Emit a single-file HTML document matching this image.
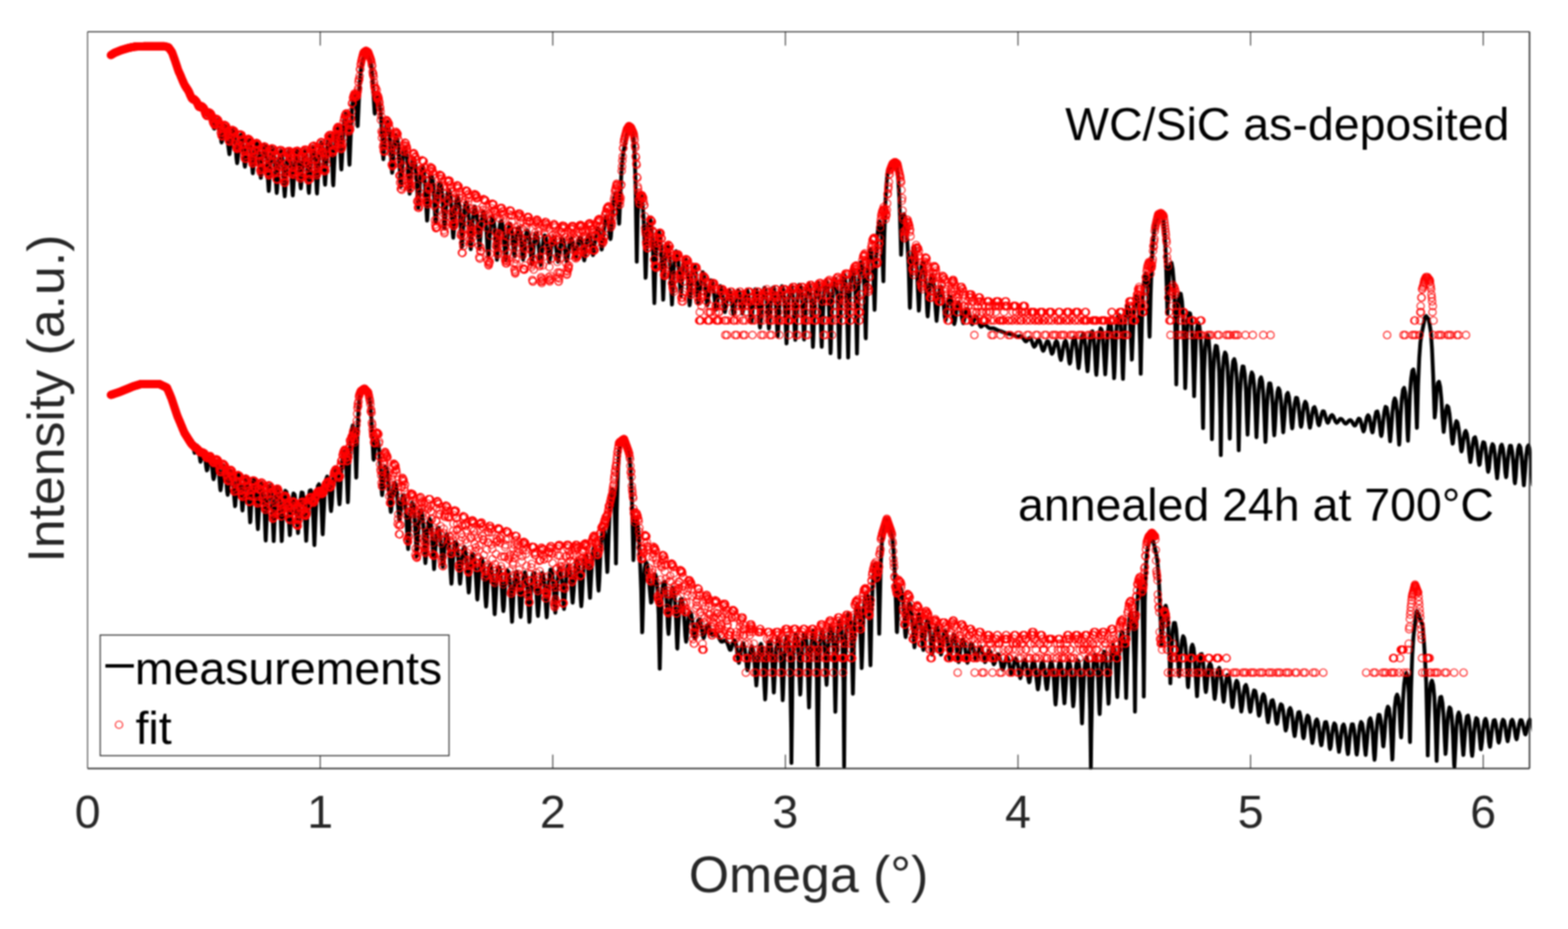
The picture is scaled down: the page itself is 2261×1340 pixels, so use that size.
<!DOCTYPE html><html><head><meta charset="utf-8"><title>XRR</title><style>html,body{margin:0;padding:0;background:#fff;overflow:hidden}svg{display:block;filter:blur(1.1px)}</style></head><body><svg width="2261" height="1340" viewBox="0 0 2261 1340">
<defs><clipPath id="pa"><rect x="124" y="44" width="2084.5" height="1066"/></clipPath><marker id="m" markerUnits="userSpaceOnUse" markerWidth="16" markerHeight="16" refX="8" refY="8" overflow="visible"><circle cx="8" cy="8" r="5.3" fill="none" stroke="#f00" stroke-width="1.3"/></marker></defs>
<rect width="2261" height="1340" fill="#fff"/>
<g clip-path="url(#pa)">
<path d="M159.8 78.5 161.5 77.6 163.2 76.7 164.9 75.8 166.5 74.9 168.2 74 169.9 73.1 171.6 72.2 173.3 71.4 174.9 70.5 176.6 70 178.3 69.6 180 69.2 181.6 68.8 183.3 68.3 185 67.9 186.7 67.5 188.3 67.1 190 66.7 191.7 66.3 193.4 65.8 195.1 65.4 196.7 65.4 198.4 65.4 200.1 64.3 201.8 64.3 203.4 65.3 205.1 64.2 206.8 64.1 208.5 64.1 210.1 64 211.8 64.6 213.5 65.3 215.2 64.6 216.9 64 218.5 64.6 220.2 65.2 221.9 64.8 223.6 64.1 225.2 64.1 226.9 64.8 228.6 65.1 230.3 64.6 232 64.1 233.6 64.1 235.3 64.7 237 65 238.7 65.1 240.3 65 242 65.3 243.7 66.9 245.4 69.8 247 72.2 248.7 75 250.4 79.1 252.1 83.8 253.8 89.4 255.4 94.8 255.9 96.3 257.1 99.7 258.8 103.1 260.5 106.6 262.1 110.6 263.8 114.7 265.5 118.3 266 119.2 267.2 121.3 268.8 123.9 270.5 126.5 272.2 129.7 273.9 133.6 275.6 137.6 276.3 138.9 277.2 139.9 278.9 140.8 280.6 141.3 282.3 142.9 283.9 146.2 285.6 150.2 286.8 152.5 287.3 152.9 289 153.1 290.6 152.2 292.3 152.8 294 156 295.7 161 297.4 165.3 297.6 165.7 299 166.4 300.7 164.3 302.4 162.7 304.1 164.9 305.7 172 307.4 181.5 308.5 185.3 309.1 185.6 310.8 180.6 312.4 174.3 314.1 173 315.8 178.9 317.5 191.6 319.2 204.5 319.5 205.6 320.8 201.9 322.5 189.4 324.2 181.5 325.9 182.2 327.5 192.5 329.2 211.3 330.7 222.5 330.9 222.4 332.6 208.2 334.2 193.2 335.9 187.4 337.6 191.5 339.3 206.1 341 228.7 341.9 235.5 342.6 232 344.3 211.5 346 197.5 347.7 194.2 349.3 201 351 217.9 352.7 238.4 353.2 240.5 354.4 232.8 356 213.4 357.7 202.5 359.4 201.7 361.1 210.8 362.8 230.4 364.4 249.6 364.6 249.9 366.1 235.9 367.8 215.8 369.5 206.1 371.1 206.8 372.8 218.2 374.5 240.4 376 256.6 376.2 256.5 377.8 237.1 379.5 217.7 381.2 209.6 382.9 212.3 384.6 227 386.2 256.6 387.5 275.5 387.9 272.7 389.6 241.3 391.3 220.6 392.9 213.4 394.6 217.7 396.3 234.1 398 264.9 399 278.4 399.7 272.7 401.3 241.7 403 222.9 404.7 216.8 406.4 221.9 408 239.8 409.7 272.7 410.6 283.3 411.4 273.5 413.1 240.9 414.7 223 416.4 217.9 418.1 224 419.8 242.9 421.5 274.9 422.2 282 423.1 270.2 424.8 239.3 426.5 222.4 428.2 217.8 429.8 223.9 431.5 241.8 433.2 267.9 433.8 271.8 434.9 261.1 436.5 234.9 438.2 219.9 439.9 216.1 441.6 223.2 443.3 243.2 444.9 274.3 445.5 278.4 446.6 262.2 448.3 231.5 450 215.3 451.6 211.2 453.3 218.4 455 239.7 456.7 275.3 457.1 279.3 458.3 258.2 460 225.3 461.7 209 463.4 205.1 465.1 212.1 466.7 232.2 468.4 263.8 468.8 266.6 470.1 246.9 471.8 215.7 473.4 199.5 475.1 195.3 476.8 202.7 478.5 224.8 480.1 263.6 480.6 267.4 481.8 240.9 483.5 206.2 485.2 189.3 486.9 183.7 488.5 189.4 490.2 209.1 491.9 241.9 492.3 244.6 493.6 221 495.2 187 496.9 169.2 498.6 163.6 500.3 169.6 501.9 191 503.6 233 504 237.7 505.3 206.1 507 165.8 508.7 143.7 510.3 134.3 512 136.2 513.7 151.8 515.4 180 515.8 181.9 517 156.4 518.7 119.6 520.4 99.8 522.1 91.3 523.7 85.6 525.4 79.9 527.1 74.2 528.8 75.4 530.5 79.5 532.1 83.6 533.8 87.8 535.5 95.4 537.2 112.3 538.8 140.7 540.2 162.8 540.5 164 542.2 151.3 543.9 140.6 545.5 140.4 547.2 148.9 548.9 162.2 550.6 188.2 552.3 224.6 552.8 229.8 553.9 216.3 555.6 190.1 557.3 177.8 559 176.3 560.6 184.4 562.3 200.9 564 229.5 565.4 249.2 565.7 248.6 567.4 223.9 569 203.8 570.7 195.5 572.4 197 574.1 208.1 575.7 231 577.4 263.9 578 269.2 579.1 257 580.8 229.8 582.4 215.4 584.1 211.9 585.8 217.9 587.5 233.8 589.2 260.8 590.6 279.4 590.8 279 592.5 256.2 594.2 236.2 595.9 227.4 597.5 228.2 599.2 238.7 600.9 261.1 602.6 294.3 603.2 300.2 604.2 288 605.9 259.7 607.6 244.4 609.3 240.3 611 245.8 612.6 262 614.3 292.5 615.8 318.2 616 317.7 617.7 287.3 619.3 263.8 621 253.6 622.7 253.7 624.4 263.5 626 284.6 627.7 315.7 628.4 321.6 629.4 311 631.1 283.3 632.8 267.7 634.4 263 636.1 267.7 637.8 282.6 639.5 309.2 641 329.5 641.1 329.2 642.8 305.7 644.5 284.3 646.2 274.4 647.8 274.2 649.5 283.6 651.2 304.6 652.9 336.5 653.6 343 654.6 332.2 656.2 303.7 657.9 287.4 659.6 282.2 661.3 286.7 662.9 301.6 664.6 330.3 666.2 356.1 666.3 355.8 668 327.3 669.6 303.5 671.3 292.8 673 292 674.7 300.8 676.4 321.1 678 352.5 678.8 359.5 679.7 349.5 681.4 320.5 683.1 303.7 684.7 298 686.4 301.8 688.1 315.2 689.8 339.5 691.4 358.8 691.4 358.7 693.1 338.2 694.8 316.9 696.5 306.5 698.2 305.6 699.8 314.1 701.5 333.6 703.2 363.3 704 370.3 704.9 361.6 706.5 334 708.2 317.5 709.9 311.8 711.6 315.4 713.2 328.9 714.9 353.9 716.5 374.8 716.6 374.8 718.3 353.2 720 331.1 721.6 320.2 723.3 318.8 725 326.4 726.7 344.1 728.3 369.1 729.1 374.7 730 368.4 731.7 344.7 733.4 328.9 735.1 322.9 736.7 325.7 738.4 336.9 740.1 355.9 741.7 369.2 741.8 369.2 743.4 356.2 745.1 338.8 746.8 329.2 748.5 327.8 750.1 334.7 751.8 350.2 753.5 370.2 754.3 374.5 755.2 370.6 756.9 351.8 758.5 337.7 760.2 332.1 761.9 334.8 763.6 346.1 765.2 366 766.9 381.5 766.9 381.5 768.6 367.3 770.3 348.3 771.9 337.8 773.6 336.1 775.3 342.6 777 357.8 778.7 377.6 779.5 382.2 780.3 378.4 782 359.7 783.7 345.4 785.4 339.5 787 341.7 788.7 351.5 790.4 367.5 792.1 378.6 792.1 378.7 793.7 368.9 795.4 353.4 797.1 343.9 798.8 341.9 800.5 347.4 802.1 359.7 803.8 374.4 804.7 377.6 805.5 375.3 807.2 361.5 808.8 349.3 810.5 343.8 812.2 345.5 813.9 354.1 815.5 367.9 817.2 377.2 817.3 377.2 818.9 369.4 820.6 355.4 822.3 346.2 823.9 343.7 825.6 348 827.3 358.4 829 370.3 829.9 372.9 830.6 371.1 832.3 359.4 834 348 835.7 342.4 837.3 343.4 839 351.6 840.7 365.4 842.4 375.5 842.5 375.6 844.1 367 845.7 351.5 847.4 341.2 849.1 338.1 850.8 342.1 852.4 352.6 854.1 365.3 855.1 368 855.8 366 857.5 352.3 859.1 338.2 860.8 330.2 862.5 329.3 864.2 335.9 865.9 349.4 867.5 360 867.7 360 869.2 349 870.9 330.8 872.6 318.5 874.2 311.9 875.9 313.1 877.6 323 879.3 339.9 880.3 344.9 880.9 341.2 882.6 317 884.3 296.1 886 284.4 887.7 278.2 889.3 280.6 891 297.3 892.7 322.8 892.9 321.6 894.4 286 896 249.5 897.7 227.9 899.4 216.6 901.1 208.6 902.8 200.7 904.4 192.7 906.1 184.8 907.8 181.8 909.5 184.7 911.1 187.6 912.8 192.1 914.5 210.7 916.2 256 917.8 352.7 918.2 377.4 919.5 311.4 921.2 284.9 922.9 280.7 924.6 280.3 926.2 290.2 927.9 312.5 929.6 356 930.9 400.8 931.3 395.6 932.9 344.7 934.6 321.9 936.3 315 938 317.2 939.6 329.5 941.3 356.9 943 416.4 943.6 437.2 944.7 397.9 946.4 354.9 948 337.4 949.7 333 951.4 338.9 953.1 356.3 954.7 391 956.3 432.3 956.4 432 958.1 389.2 959.8 362.6 961.4 352 963.1 352.2 964.8 362.6 966.5 384.7 968.2 424.9 969 439.3 969.8 425.5 971.5 388.1 973.2 369 974.9 362.4 976.5 365.6 978.2 378.5 979.9 402.9 981.6 426.9 981.7 427.1 983.2 408.8 984.9 385.8 986.6 374.2 988.3 372.2 990 379.5 991.6 397.5 993.3 427.4 994.4 440.4 995 436.2 996.7 408.2 998.3 389.4 1000 381.9 1001.7 383.6 1003.4 394.5 1005 414.9 1006.7 436.1 1007.1 437.3 1008.4 427.1 1010.1 407 1011.8 395.4 1013.4 392.6 1015.1 398 1016.8 411.6 1018.5 431.2 1019.8 440.3 1020.1 439.8 1021.8 425.7 1023.5 411.2 1025.2 404.3 1026.8 405.1 1028.5 413.6 1030.2 429 1031.9 444.7 1032.5 446.7 1033.6 442.4 1035.2 427.4 1036.9 416.3 1038.6 412.5 1040.3 415.9 1041.9 426.3 1043.6 441.6 1045.2 450.3 1045.3 450.3 1047 441.5 1048.6 428.6 1050.3 420.9 1052 419.2 1053.7 424.6 1055.4 436.6 1057 450.7 1057.9 453.6 1058.7 451.2 1060.4 437.2 1062.1 424.6 1063.7 418.7 1065.4 419.9 1067.1 428.1 1068.8 441.9 1070.5 452.2 1070.6 452.3 1072.1 444.8 1073.8 430.2 1075.5 420.4 1077.2 417.6 1078.8 422.5 1080.5 435.8 1082.2 456.5 1083.3 465.1 1083.9 463.5 1085.5 443.6 1087.2 425.9 1088.9 417.3 1090.6 417.5 1092.3 426.9 1093.9 446.8 1095.6 470.8 1096 472.5 1097.3 459.5 1099 434.6 1100.6 419.9 1102.3 415 1104 419.1 1105.7 433.1 1107.3 458.3 1108.7 473.9 1109 472.8 1110.7 447.5 1112.4 425.9 1114.1 415.4 1115.7 414.4 1117.4 423.1 1119.1 444 1120.8 478.5 1121.4 485.4 1122.4 470.7 1124.1 437.7 1125.8 419.4 1127.5 412.7 1129.1 415.8 1130.8 429.9 1132.5 460 1134.1 495.4 1134.2 495.3 1135.9 456.6 1137.5 427.6 1139.2 414.2 1140.9 411.6 1142.6 419.1 1144.2 438.8 1145.9 475.8 1146.8 490.3 1147.6 478.3 1149.3 440 1150.9 419.1 1152.6 410.7 1154.3 412.4 1156 424.5 1157.7 451.4 1159.3 489.1 1159.5 489.8 1161 459.1 1162.7 428.1 1164.4 412.9 1166 408.8 1167.7 414.8 1169.4 433.1 1171.1 472 1172.2 500.4 1172.7 490.8 1174.4 442.9 1176.1 418.1 1177.8 407.7 1179.5 407.8 1181.1 418.6 1182.8 444.4 1184.5 493.9 1184.9 500.3 1186.2 466 1187.8 427.9 1189.5 410 1191.2 404.3 1192.9 408.8 1194.5 425.4 1196.2 463.1 1197.6 509.5 1197.9 504.4 1199.6 445.4 1201.3 416.5 1202.9 404 1204.6 402.2 1206.3 410.8 1208 434.5 1209.6 491.1 1210.3 515.7 1211.3 473.5 1213 424.8 1214.7 403.1 1216.3 395 1218 397.4 1219.7 411.7 1221.4 446.2 1223 515.8 1223.1 515.4 1224.7 440.8 1226.4 406.4 1228.1 391.2 1229.8 387.4 1231.4 394.1 1233.1 414.8 1234.8 466.4 1235.7 510 1236.5 472 1238.2 413.4 1239.8 388.5 1241.5 378.2 1243.2 378.6 1244.9 389.4 1246.5 418.3 1248.2 485.6 1248.4 488.1 1249.9 424.3 1251.6 384.8 1253.2 366.4 1254.9 359.9 1256.6 363.9 1258.3 378.3 1260 414.1 1261.1 447 1261.6 432.8 1263.3 372.7 1265 341.4 1266.7 325.2 1268.3 319.7 1270 325 1271.7 341.7 1273.4 396.2 1273.8 405.7 1275 345.4 1276.7 292.6 1278.4 263.5 1280.1 247.4 1281.8 245 1283.4 242.6 1285.1 240.2 1286.8 237.8 1288.5 235.4 1290.1 233 1291.8 237.5 1293.5 244.2 1295.2 258.1 1296.8 285.5 1298.5 338.7 1299.3 367.5 1300.2 350.8 1301.9 316.8 1303.6 308.7 1305.2 314 1306.9 329.4 1308.6 354.3 1310.3 386.6 1311.9 442.3 1312.1 444.2 1313.6 402 1315.3 370.2 1317 357.4 1318.6 356.1 1320.3 364.8 1322 385.1 1323.7 422.6 1324.9 448.1 1325.4 443.7 1327 406.2 1328.7 385.1 1330.4 377.4 1332.1 379.9 1333.7 392 1335.4 416.1 1337.1 450.8 1337.7 456.5 1338.8 443.5 1340.4 415.2 1342.1 400.3 1343.8 396.2 1345.5 401.3 1347.2 416.1 1348.8 441.7 1350.5 462.9 1350.5 462.9 1352.2 444.2 1353.9 423.8 1355.5 414.2 1357.2 413.7 1358.9 421.4 1360.6 437 1362.2 456.5 1363.3 462.3 1363.9 460.6 1365.6 446 1367.3 432.9 1369 427.2 1370.6 428.8 1372.3 437.8 1374 453.1 1375.7 466.7 1376.1 467.5 1377.3 462.1 1379 448.2 1380.7 438.6 1382.4 435.8 1384 439.7 1385.7 449.1 1387.4 461 1388.9 466.2 1389.1 466.2 1390.8 459.8 1392.4 450.6 1394.1 445.5 1395.8 445.9 1397.5 451.1 1399.1 459.4 1400.8 466.5 1401.7 467.8 1402.5 467.2 1404.2 462.6 1405.9 458 1407.5 456.4 1409.2 458.5 1410.9 463.3 1412.6 468.5 1414.2 471.2 1414.5 471.3 1415.9 470.6 1417.6 468.6 1419.3 467.6 1420.9 468.3 1422.6 469.9 1424.3 471.6 1426 473 1427.3 473.5 1427.7 473.6 1429.3 473.5 1431 473.4 1432.7 473.5 1434.4 474.2 1436 475 1437.7 475.9 1439.4 476.6 1440.1 476.8 1441.1 477.1 1442.7 477.6 1444.4 478.2 1446.1 478.9 1447.8 479.5 1449.5 480.2 1451.1 480.7 1452.8 481 1452.9 481.1 1454.5 481.6 1456.2 481.9 1457.8 482.1 1459.5 482.3 1461.2 482.9 1462.9 483.8 1464.5 484.9 1465.7 485.5 1466.2 485.6 1467.9 485.7 1469.6 485.2 1471.3 484.8 1472.9 485.1 1474.6 486.6 1476.3 489.1 1478 491.6 1478.5 492.2 1479.6 492.5 1481.3 491 1483 488.6 1484.7 487.4 1486.3 488.7 1488 492.7 1489.7 497.6 1491.3 500.2 1491.4 500.2 1493.1 498.4 1494.7 494.2 1496.4 490.7 1498.1 490.1 1499.8 493 1501.4 498.7 1503.1 504.4 1504.1 506 1504.8 505.8 1506.5 501.6 1508.1 495.8 1509.8 492.2 1511.5 492.5 1513.2 497 1514.9 504.2 1516.5 509.9 1516.9 510.3 1518.2 508.5 1519.9 501.3 1521.6 494.5 1523.2 491.8 1524.9 494.5 1526.6 503 1528.3 514.3 1529.7 519.3 1529.9 519.1 1531.6 511.3 1533.3 500.2 1535 493.2 1536.7 491.6 1538.3 496.4 1540 507.5 1541.7 521.4 1542.5 524.6 1543.4 522.3 1545 507.5 1546.7 493.7 1548.4 486.9 1550.1 487.8 1551.7 496.8 1553.4 514.3 1555.1 530.8 1555.3 531.1 1556.8 519.4 1558.5 498.6 1560.1 485.5 1561.8 481.2 1563.5 485.4 1565.2 499.3 1566.8 523.1 1568.1 535.6 1568.5 534 1570.2 509.8 1571.9 489.2 1573.6 478.9 1575.2 477.8 1576.9 486 1578.6 505.7 1580.3 535.6 1580.9 540.8 1581.9 528.6 1583.6 498.5 1585.3 480.6 1587 473.6 1588.6 475.9 1590.3 488.2 1592 513.5 1593.7 540 1593.7 540 1595.4 512.6 1597 484.3 1598.7 469.4 1600.4 464.8 1602.1 470 1603.7 487.1 1605.4 523 1606.5 545.5 1607.1 536.6 1608.8 492.1 1610.4 467 1612.1 455.6 1613.8 454.3 1615.5 463.5 1617.2 487.8 1618.8 538.2 1619.3 546.6 1620.5 510.3 1622.2 469 1623.9 448.9 1625.5 441.2 1627.2 443.2 1628.9 456.2 1630.6 485.8 1632.1 518.8 1632.2 518.3 1633.9 475.4 1635.6 444.9 1637.3 429.8 1639 425.6 1640.6 431.1 1642.3 448.8 1644 497.2 1644.9 539.1 1645.7 500.6 1647.3 439.2 1649 411.3 1650.7 398 1652.4 394 1654 399.9 1655.7 422.7 1657.4 480.7 1657.7 485.8 1659.1 427.4 1660.8 379.6 1662.4 351.3 1664.1 335.1 1665.8 323.9 1667.5 318.6 1669.1 314.1 1670.8 309.7 1672.5 307.2 1674.2 309.4 1675.8 311.6 1677.5 314.4 1679.2 331.7 1680.9 365 1682.6 423.5 1683.4 453 1684.2 435.5 1685.9 396.6 1687.6 381.1 1689.3 379.1 1690.9 387.5 1692.6 407.1 1694.3 445.1 1696 542.6 1696.2 554.4 1697.6 470.4 1699.3 435.3 1701 423.4 1702.7 423.8 1704.4 434.4 1706 457.5 1707.7 503.1 1709 560 1709.4 552.1 1711.1 488.7 1712.7 461.8 1714.4 451.4 1716.1 452 1717.8 463 1719.4 488.2 1721.1 543.2 1721.9 571.5 1722.8 539.6 1724.5 491.6 1726.2 471.8 1727.8 465.7 1729.5 470.1 1731.2 485.8 1732.9 519.9 1734.5 609.7 1734.8 617.5 1736.2 537.7 1737.9 500.3 1739.6 485.5 1741.3 482.8 1742.9 490.5 1744.6 510.8 1746.3 555.9 1747.6 633.5 1748 614.8 1749.6 536.5 1751.3 509 1753 498.7 1754.7 499.5 1756.3 510.3 1758 536.1 1759.7 600.3 1760.4 656.5 1761.4 590.8 1763.1 536.4 1764.7 515.2 1766.4 508.3 1768.1 511.8 1769.8 526.5 1771.4 559 1773.1 629.6 1773.3 632.7 1774.8 572.5 1776.5 536.3 1778.1 521.1 1779.8 517.9 1781.5 524.8 1783.2 544.5 1784.9 588.1 1786.2 649.5 1786.5 636 1788.2 566.7 1789.9 539.3 1791.6 528.6 1793.2 528.8 1794.9 539.5 1796.6 563.4 1798.3 610.8 1799 627 1799.9 604.1 1801.6 562.8 1803.3 543.5 1805 537.1 1806.7 540.6 1808.3 554.7 1810 584.3 1811.7 629.9 1811.8 630.8 1813.4 593.9 1815 562 1816.7 547.5 1818.4 544.1 1820.1 550.6 1821.7 569.1 1823.4 606.5 1824.7 637.5 1825.1 632.5 1826.8 587.7 1828.5 563 1830.1 552.9 1831.8 553 1833.5 562.9 1835.2 584.8 1836.8 620 1837.5 627.9 1838.5 614.9 1840.2 583.2 1841.9 565.9 1843.5 559.8 1845.2 563.1 1846.9 575.9 1848.6 599.6 1850.3 623.4 1850.4 623.6 1851.9 605.2 1853.6 581.8 1855.3 569.5 1857 566.7 1858.6 572.4 1860.3 587 1862 608.6 1863.2 617.9 1863.7 616.6 1865.3 598.3 1867 581.7 1868.7 573.8 1870.4 574 1872.1 582 1873.7 597.3 1875.4 613.6 1876.1 615.7 1877.1 611.3 1878.8 595.6 1880.4 583.9 1882.1 579.4 1883.8 582.1 1885.5 592 1887.1 607.1 1888.8 617 1889 617 1890.5 609.4 1892.2 596.6 1893.9 588.6 1895.5 587.1 1897.2 591.7 1898.9 601 1900.6 610.8 1901.8 613.5 1902.2 613 1903.9 606 1905.6 597.8 1907.3 593.2 1909 593.5 1910.6 598 1912.3 604.7 1914 609.4 1914.6 609.8 1915.7 608.6 1917.3 604 1919 599.9 1920.7 598.6 1922.4 600.2 1924 603.9 1925.7 607.8 1927.4 609.7 1927.5 609.8 1929.1 608.7 1930.8 606.2 1932.4 604.3 1934.1 604.2 1935.8 605.8 1937.5 608.3 1939.1 610.4 1940.4 611 1940.8 611 1942.5 609.8 1944.2 607.7 1945.8 606.2 1947.5 606.1 1949.2 607.7 1950.9 610.7 1952.6 613.3 1953.2 613.8 1954.2 613.6 1955.9 610.6 1957.6 606.5 1959.3 603.8 1960.9 604.5 1962.6 609.4 1964.3 617 1966 622.2 1966.1 622.3 1967.6 618.8 1969.3 609.7 1971 601.9 1972.7 598.9 1974.4 601.4 1976 609.4 1977.7 619.9 1978.9 623.7 1979.4 623.2 1981.1 613.6 1982.7 601.6 1984.4 594.3 1986.1 593.4 1987.8 599.5 1989.4 612.5 1991.1 627 1991.8 628.9 1992.8 624.5 1994.5 607.8 1996.2 593.7 1997.8 586.8 1999.5 587.8 2001.2 597.6 2002.9 617.5 2004.5 636.6 2004.6 636.6 2006.2 618.5 2007.9 594 2009.6 579.5 2011.2 574.6 2012.9 578.8 2014.6 594 2016.3 624.1 2017.5 641.4 2018 636.9 2019.6 600.4 2021.3 575.7 2023 562.6 2024.7 559.3 2026.3 566.1 2028 586.3 2029.7 626.6 2030.3 635.8 2031.4 611.6 2033 570 2034.7 546.9 2036.4 534.9 2038.1 532.9 2039.8 542.3 2041.4 570 2043.1 617.2 2043.2 616.8 2044.8 556.6 2046.5 516.6 2048.1 494.2 2049.8 482.4 2051.5 474.1 2053.2 465.9 2054.8 457.7 2056.5 455.9 2058.2 458.1 2059.9 460.3 2061.6 468.7 2063.2 478.6 2064.9 503.3 2066.6 541.6 2068.3 589.8 2068.8 602.2 2069.9 592.5 2071.6 565 2073.3 552.6 2075 550.6 2076.7 557.9 2078.3 574.7 2080 601.5 2081.7 623.1 2081.7 623.1 2083.4 608.9 2085 592.2 2086.7 585.3 2088.4 587.1 2090.1 596.5 2091.7 611.9 2093.4 632.2 2094.6 640 2095.1 639.2 2096.8 625.4 2098.5 612.5 2100.1 607.4 2101.8 609.9 2103.5 619.3 2105.2 634.5 2106.8 649.3 2107.4 651.1 2108.5 647.4 2110.2 634.2 2111.9 624.5 2113.5 621.5 2115.2 625.7 2116.9 637 2118.6 654.4 2120.2 666.6 2120.3 666.6 2121.9 656.7 2123.6 641.2 2125.3 632.1 2127 630.6 2128.6 636.4 2130.3 649.1 2132 665.2 2133.1 670.7 2133.7 669.7 2135.3 657 2137 644.1 2138.7 637.8 2140.4 638.7 2142.1 646.9 2143.7 662.4 2145.4 678.7 2145.9 680.6 2147.1 675.7 2148.8 658.6 2150.4 645.7 2152.1 640.5 2153.8 643.3 2155.5 654.7 2157.1 674.7 2158.8 690 2158.8 690 2160.5 674.6 2162.2 654.8 2163.9 643.8 2165.5 641.4 2167.2 647 2168.9 661.2 2170.6 681.3 2171.7 688.4 2172.2 686.3 2173.9 667.5 2175.6 651 2177.3 642.9 2178.9 643.1 2180.6 652 2182.3 670.8 2184 694.5 2184.5 697.1 2185.7 687.1 2187.3 662.9 2189 647.7 2190.7 642.1 2192.4 645.2 2194 657.7 2195.7 680.8 2197.3 700 2197.4 700 2199.1 679.6 2200.7 656.9 2202.4 645 2204.1 642.3 2205.8 648.5 2207.5 664.4 2209.1 689.6 2210.2 699.3 2210.8 695.9 2212.5 670.9 2214.2 652.1 2215.8 643.4" fill="none" stroke="#000" stroke-width="5.5" stroke-linejoin="round" stroke-linecap="round"/>
<path d="M159.8 568.9 161.5 568.3 163.2 567.8 164.9 567.2 166.5 566.6 168.2 566.1 169.9 565.5 171.6 564.9 173.3 564.3 174.9 563.6 176.6 563 178.3 562.3 180 561.6 181.6 560.9 183.3 560.3 185 559.6 186.7 558.9 188.3 558.2 190 557.6 191.7 556.9 193.4 556.3 195.1 555.8 196.7 555.3 198.4 554.8 200.1 554.3 201.8 553.9 203.4 553.5 205.1 553.5 206.8 553.5 208.5 553.5 210.1 553.5 211.8 553.5 213.5 553.5 215.2 553.5 216.9 553.5 218.5 553.5 220.2 553.5 221.9 553.5 223.6 553.5 225.2 553.5 226.9 553.5 228.6 553.5 230.3 553.6 232 554.4 233.6 555.2 235.3 556 237 556.7 238.7 557.5 240.3 558.3 242 561.4 243.7 565.3 245.4 570.3 247 573.6 248.3 578.3 248.7 579.4 250.4 583.3 252.1 589.4 252.8 591.9 253.8 594.3 255.4 598.3 257.1 603.2 258.4 607.1 258.8 607.9 260.5 610.9 262.1 614.7 263.8 620.1 265 623.5 265.5 624.6 267.2 625.9 268.8 626.6 270.5 631.3 272.2 637.5 272.4 637.8 273.9 637.4 275.6 633.9 277.2 636 278.9 645.3 280.5 653 280.6 653.2 282.3 648.6 283.9 642.5 285.6 644.4 287.3 655.1 289 665.8 289.1 666.2 290.6 661.9 292.3 653 294 651.5 295.7 659.8 297.4 674.1 298.3 678.6 299 677.5 300.7 666.6 302.4 658.8 304.1 660.7 305.7 672.9 307.4 688.9 308 691.3 309.1 687.3 310.8 672.5 312.4 664.8 314.1 668.3 315.8 683.4 317.5 704.5 318 707.2 319.2 699.7 320.8 680.7 322.5 671.6 324.2 674.2 325.9 688.2 327.5 709.3 328.3 713.9 329.2 709.4 330.9 690.5 332.6 679.3 334.2 679.4 335.9 691.6 337.6 716 338.9 730.3 339.3 729 341 705.8 342.6 688.4 344.3 683.4 346 690.2 347.7 709.7 349.3 734.7 349.7 736.4 351 723 352.7 699.5 354.4 688.3 356 689.2 357.7 702.8 359.4 732.1 360.7 753.5 361.1 751.6 362.8 719.4 364.4 698.1 366.1 691.3 367.8 696.8 369.5 716.2 371.1 753 371.9 763.3 372.8 749.4 374.5 715.4 376.2 698.8 377.8 695.7 379.5 705 381.2 730.5 382.9 776.2 383.2 779.8 384.6 748.2 386.2 714.8 387.9 700.9 389.6 700.2 391.3 711.9 392.9 740.6 394.6 780.4 394.7 780.4 396.3 743.9 398 715.2 399.7 703.7 401.3 704.7 403 718.1 404.7 748.3 406.2 780.5 406.4 780.1 408 743.4 409.7 717.9 411.4 707.9 413.1 709.7 414.7 723.1 416.4 750.3 417.9 772.1 418.1 771.6 419.8 743.7 421.5 721 423.1 711.7 424.8 713.4 426.5 725.2 428.2 749.5 429.7 769 429.8 768.7 431.5 743.9 433.2 720.8 434.9 710.3 436.5 710.8 438.2 722.6 439.9 749.8 441.5 780.1 441.6 780 443.3 746.8 444.9 719.7 446.6 707.7 448.3 707 450 717.5 451.6 744.7 453.3 786.1 453.4 786.2 455 747.3 456.7 715.4 458.3 701 460 698.5 461.7 707 463.4 730.5 465.1 768.9 465.4 770.8 466.7 741.8 468.4 708.2 470.1 691.8 471.8 687.3 473.4 692.8 475.1 709.7 476.8 733.5 477.4 737.2 478.5 726.4 480.1 698.3 481.8 680.9 483.5 674 485.2 676.2 486.9 689.8 488.5 716.8 489.5 727.4 490.2 720 491.9 685.4 493.6 662.7 495.2 652.1 496.9 651.2 498.6 662.7 500.3 693.4 501.6 724.5 501.9 720 503.6 668.7 505.3 637.8 507 620 508.7 613.6 510.3 618.9 512 642 513.7 689 513.8 688.5 515.4 628.9 517 587 518.7 570.8 520.4 566.1 522.1 563.9 523.7 561.8 525.4 559.6 527.1 561.2 528.8 563.1 530.5 564.9 532.1 570.6 533.8 582 535.5 603.4 537.2 637.5 538.5 662 538.8 663.1 540.5 648.5 542.2 635.9 543.9 632.8 545.5 639.1 547.2 654.6 548.9 680.1 550.6 710.8 551 714.3 552.3 703.2 553.9 683 555.6 673.8 557.3 674.6 559 684.3 560.6 702.4 562.3 727.4 563.5 738.5 564 737 565.7 717.2 567.4 701.6 569 695.9 570.7 699 572.4 710.8 574.1 731.3 575.7 750.1 576 750.7 577.4 742.1 579.1 724.7 580.8 714.8 582.4 714 584.1 722.6 585.8 742.2 587.5 776.8 588.5 791.9 589.2 784.6 590.8 751.2 592.5 732 594.2 725.1 595.9 728.4 597.5 742.3 599.2 770.4 600.9 803 600.9 803 602.6 775.1 604.2 748.6 605.9 736.6 607.6 735.5 609.3 744.9 611 766.3 612.6 802 613.4 812.3 614.3 802.1 616 770.4 617.7 753.3 619.3 748 621 752.6 622.7 767.8 624.4 796.7 625.9 821 626 820.7 627.7 793.7 629.4 771.2 631.1 761.2 632.8 761.2 634.4 770.5 636.1 789.7 637.8 813.3 638.4 817.7 639.5 811.2 641.1 788.7 642.8 774.6 644.5 770.5 646.2 775.8 647.8 791.9 649.5 821.5 650.9 842.1 651.2 840.7 652.9 812.3 654.6 791.2 656.2 782 657.9 782.5 659.6 792.6 661.3 813 662.9 839.1 663.4 841.9 664.6 830.6 666.3 806.1 668 792.2 669.6 788.8 671.3 794.9 673 811.6 674.7 840.4 675.9 854.8 676.4 852.3 678 825.8 679.7 806.8 681.4 798.8 683.1 800.3 684.7 811.6 686.4 834.9 688.1 863.7 688.4 864.9 689.8 847.1 691.4 821 693.1 807.6 694.8 805.1 696.5 812.5 698.2 831 699.8 862.3 700.9 875 701.5 869.8 703.2 840.7 704.9 822.4 706.5 814.8 708.2 816.8 709.9 829.3 711.6 855.2 713.2 885.6 713.4 885.9 714.9 860.3 716.6 833.2 718.3 820.2 720 818.1 721.6 825.7 723.3 844.2 725 873.3 725.8 881.6 726.7 874.6 728.3 846.8 730 829.4 731.7 822.6 733.4 825.5 735.1 839.2 736.7 867.9 738.3 896.9 738.4 896.8 740.1 864.6 741.8 838.2 743.4 826 745.1 824.5 746.8 832.8 748.5 852.8 750.1 883.6 750.8 889.9 751.8 878.5 753.5 848.7 755.2 831.5 756.9 825.5 758.5 829.1 760.2 843.8 761.9 873.3 763.3 897.1 763.6 895.8 765.2 862.4 766.9 838 768.6 827.1 770.3 826.6 771.9 835.9 773.6 856.5 775.3 885.2 775.8 888.5 777 875.1 778.7 847.5 780.3 832 782 826.3 783.7 830.1 785.4 844.7 787 873.4 788.3 890.5 788.7 887.5 790.4 855.1 792.1 832.1 793.7 821.5 795.4 821.6 797.1 831.8 798.8 854.1 800.5 882.4 800.8 883.8 802.1 865.7 803.8 838.2 805.5 823.4 807.2 819.2 808.8 824.6 810.5 840.6 812.2 867.9 813.3 878.4 813.9 873.8 815.5 845.1 817.2 824.9 818.9 815.9 820.6 816.3 822.3 826.5 823.9 847.8 825.6 869.2 825.8 869.3 827.3 851.2 829 826.3 830.6 812.6 832.3 808.8 834 814.7 835.7 832.3 837.3 864.1 838.2 874.4 839 865 840.7 831.3 842.4 810.4 844.1 801.2 845.7 801.8 847.4 813 849.1 837.7 850.7 862.3 850.8 862.3 852.4 833.4 854.1 805.8 855.8 791.6 857.5 787.8 859.1 794 860.8 812.4 862.5 844.7 863.2 852.1 864.2 837.2 865.9 799 867.5 775.6 869.2 764.1 870.9 762.8 872.6 772.6 874.2 798.6 875.7 825 875.9 823.6 877.6 775.1 879.3 738.1 880.9 716.7 882.6 706.4 884.3 707.2 886 723.5 887.7 782.4 888.2 812.8 889.3 738.6 891 680.3 892.7 650.4 894.4 640.5 896 638 897.7 635.6 899.4 633.1 901.1 636 902.8 640.7 904.4 645.4 906.1 650 907.8 658.7 909.5 679.9 911.1 716.4 912.8 786.4 913.4 807.9 914.5 776.4 916.2 749 917.8 746.1 919.5 756.1 921.2 776.5 922.9 808.7 924.6 851.6 926 912.1 926.2 910.2 927.9 846.6 929.6 820.1 931.3 810.9 932.9 812.8 934.6 824 936.3 843.6 938 861.8 938.7 869.3 939.6 868.4 941.3 848.4 943 833.2 944.7 828.1 946.4 832.8 948 849.4 949.7 886.1 951.3 964.5 951.4 964.5 953.1 886.7 954.7 854 956.4 840.8 958.1 839.2 959.8 847.9 961.4 869.1 963.1 905 964 914.6 964.8 905.9 966.5 872.5 968.2 854 969.8 847.7 971.5 851.4 973.2 865.6 974.9 894.9 976.5 935.1 976.7 935.6 978.2 903.6 979.9 875.4 981.6 864.2 983.2 863.9 984.9 873 986.6 891.9 988.3 917.9 989.3 925.7 990 922.5 991.6 902.9 993.3 888.2 995 882.7 996.7 885.2 998.3 895.2 1000 910.5 1001.7 920.9 1002 921.1 1003.4 915.4 1005 903.2 1006.7 895 1008.4 893.1 1010.1 897.5 1011.8 906.9 1013.4 917.3 1014.6 920.2 1015.1 919.7 1016.8 912.5 1018.5 904.8 1020.1 901.3 1021.8 902.6 1023.5 907.5 1025.2 913.3 1026.8 916.3 1027.3 916.4 1028.5 915.8 1030.2 914.4 1031.9 913.5 1033.6 914.4 1035.2 917.2 1036.9 920.5 1038.6 923.7 1040 925.4 1040.3 925.6 1041.9 925.6 1043.6 924.4 1045.3 923.7 1047 924.7 1048.6 927 1050.3 931.5 1052 936.3 1052.6 937.4 1053.7 937.2 1055.4 932.6 1057 926.5 1058.7 923.3 1060.4 925.1 1062.1 933.6 1063.7 947.1 1065.3 956 1065.4 956.1 1067.1 949.3 1068.8 936.6 1070.5 928.7 1072.1 928 1073.8 934.6 1075.5 948.2 1077.2 963.8 1077.9 966.8 1078.8 963.9 1080.5 949.3 1082.2 937 1083.9 932 1085.5 934.7 1087.2 945.7 1088.9 967 1090.6 988.6 1090.6 988.7 1092.3 970.1 1093.9 945.5 1095.6 932.1 1097.3 928.7 1099 935.1 1100.6 953.7 1102.3 990.8 1103.3 1008.9 1104 998 1105.7 956.9 1107.3 934.4 1109 925.1 1110.7 926.1 1112.4 937.9 1114.1 964 1115.7 998.5 1115.9 998.9 1117.4 969.3 1119.1 939.2 1120.8 924.3 1122.4 920.1 1124.1 925.4 1125.8 942.8 1127.5 980.5 1128.6 1010 1129.1 1001.8 1130.8 955.6 1132.5 928.5 1134.2 917.8 1135.9 918.2 1137.5 930 1139.2 959.6 1140.9 1054.8 1141.2 1100.5 1142.6 983.1 1144.2 937.9 1145.9 919.9 1147.6 914.6 1149.3 919.5 1150.9 936.4 1152.6 972.2 1153.9 1001.9 1154.3 996.8 1156 951 1157.7 925.2 1159.3 914 1161 913.4 1162.7 923.4 1164.4 948.5 1166 1005 1166.6 1020.5 1167.7 980.2 1169.4 936.5 1171.1 917 1172.7 910.4 1174.4 914.6 1176.1 931.4 1177.8 972.5 1179.2 1103.5 1179.5 1068.9 1181.1 956 1182.8 923.2 1184.5 910.5 1186.2 908.8 1187.8 917.4 1189.5 938.8 1191.2 977.8 1191.9 987.9 1192.9 969.5 1194.5 931.2 1196.2 910.9 1197.9 902.9 1199.6 905.2 1201.3 919.3 1202.9 953.8 1204.5 1026.8 1204.6 1026.4 1206.3 948.5 1208 913.9 1209.6 898.6 1211.3 895.1 1213 902.5 1214.7 924.8 1216.3 984.9 1217.2 1105.5 1218 984.8 1219.7 920 1221.4 895.1 1223.1 884.9 1224.7 885.5 1226.4 897.7 1228.1 929 1229.8 1000.1 1229.9 1000.7 1231.4 930.7 1233.1 893.3 1234.8 876.3 1236.5 870.7 1238.2 875.5 1239.8 893.4 1241.5 934.7 1242.5 963.7 1243.2 946.2 1244.9 893.3 1246.5 867.2 1248.2 855.6 1249.9 854.6 1251.6 861.7 1253.2 886.2 1254.9 953.4 1255.2 959.7 1256.6 891.6 1258.3 846.4 1260 823.9 1261.6 813.8 1263.3 812.8 1265 824.5 1266.7 862.9 1267.8 914.1 1268.3 888.1 1270 814.6 1271.7 781.7 1273.4 765.9 1275 759.4 1276.7 753.9 1278.4 748.5 1280.1 751.6 1281.8 756.7 1283.4 761.8 1285.1 766.8 1286.8 776.2 1288.5 795 1290.1 824.8 1291.8 868.4 1293.2 911.4 1293.5 911.7 1295.2 871.4 1296.8 852 1298.5 847.8 1300.2 853.4 1301.9 863.9 1303.6 884.9 1305.2 913.3 1305.9 918.9 1306.9 911.5 1308.6 888.1 1310.3 874.4 1311.9 870.6 1313.6 875.7 1315.3 890.1 1317 914.4 1318.6 933.8 1318.7 933.8 1320.3 918 1322 898 1323.7 887.6 1325.4 886.2 1327 893.3 1328.7 909.2 1330.4 931 1331.4 937.5 1332.1 934.6 1333.7 915.5 1335.4 900.6 1337.1 894.5 1338.8 896.6 1340.4 907.1 1342.1 926 1343.8 943.7 1344.1 944.3 1345.5 934.7 1347.2 916.4 1348.8 905.4 1350.5 902.8 1352.2 907.7 1353.9 920 1355.5 937.2 1356.8 944.2 1357.2 943.6 1358.9 930.5 1360.6 916.6 1362.2 909.7 1363.9 910.3 1365.6 918.5 1367.3 933.8 1369 949.2 1369.5 950.7 1370.6 945.6 1372.3 930.2 1374 919.1 1375.7 915.4 1377.3 919 1379 930.1 1380.7 946.4 1382.2 955.1 1382.4 955.1 1384 944.5 1385.7 930.7 1387.4 923 1389.1 922.3 1390.8 928.6 1392.4 940.8 1394.1 953.7 1395 956 1395.8 953.8 1397.5 942.4 1399.1 932.4 1400.8 928.1 1402.5 929.9 1404.2 936.8 1405.9 946.5 1407.5 952.3 1407.7 952.4 1409.2 948.5 1410.9 940.3 1412.6 934.4 1414.2 933.2 1415.9 937.1 1417.6 944.9 1419.3 953 1420.4 955.1 1420.9 954.7 1422.6 948.9 1424.3 942.1 1426 938.4 1427.7 939.2 1429.3 944.5 1431 952.2 1432.7 957.8 1433.1 958.2 1434.4 956.4 1436 950.4 1437.7 945 1439.4 943.3 1441.1 946.2 1442.7 953.5 1444.4 962.3 1445.8 966.1 1446.1 966.1 1447.8 961.4 1449.5 953.7 1451.1 948.7 1452.8 948.3 1454.5 953.2 1456.2 962.5 1457.8 971.5 1458.5 972.8 1459.5 971.2 1461.2 962.2 1462.9 953.5 1464.5 949.7 1466.2 951.7 1467.9 959.5 1469.6 971.2 1471.2 978.4 1471.3 978.4 1472.9 972.3 1474.6 960.9 1476.3 953.2 1478 951.6 1479.6 956.3 1481.3 967.2 1483 980.5 1484 984.3 1484.7 983.2 1486.3 971.5 1488 959.5 1489.7 953.6 1491.4 954.8 1493.1 963.8 1494.7 980 1496.4 994 1496.7 994.4 1498.1 986 1499.8 969.1 1501.4 957.9 1503.1 954.4 1504.8 958.2 1506.5 969.3 1508.1 986.1 1509.4 994.1 1509.8 993.7 1511.5 979.5 1513.2 963.6 1514.9 955.1 1516.5 954.8 1518.2 963.5 1519.9 983.2 1521.6 1011.8 1522.1 1016.2 1523.2 1004.4 1524.9 976.1 1526.6 959.4 1528.3 953.4 1529.9 956.8 1531.6 970.3 1533.3 995.4 1534.8 1014.5 1535 1014.2 1536.7 989.5 1538.3 966.6 1540 955.1 1541.7 953.2 1543.4 960.5 1545 978.7 1546.7 1009.2 1547.5 1018.8 1548.4 1010.8 1550.1 979.7 1551.7 960.1 1553.4 951.9 1555.1 953.5 1556.8 966.1 1558.5 995.1 1560.1 1042.7 1560.3 1043.4 1561.8 1001.3 1563.5 967.5 1565.2 951.9 1566.8 947.5 1568.5 953.8 1570.2 973.6 1571.9 1023 1573 1107.5 1573.6 1057.8 1575.2 983.2 1576.9 955.4 1578.6 944.9 1580.3 944.9 1581.9 955.5 1583.6 980.7 1585.3 1025.6 1585.7 1030.1 1587 999.5 1588.6 963.3 1590.3 945.7 1592 939.9 1593.7 944 1595.4 959.1 1597 989.9 1598.4 1015.1 1598.7 1013.2 1600.4 975.5 1602.1 947.8 1603.7 933.8 1605.4 930.1 1607.1 936.4 1608.8 955.9 1610.4 994.6 1611.1 1005.4 1612.1 985.2 1613.8 943.9 1615.5 921.7 1617.2 912 1618.8 912.5 1620.5 923.9 1622.2 952.8 1623.9 1006.7 1623.9 1006.7 1625.5 945.8 1627.2 908.4 1628.9 889.9 1630.6 883.1 1632.2 886.8 1633.9 904.7 1635.6 954.4 1636.6 1026.4 1637.3 964.4 1639 891.8 1640.6 860.2 1642.3 844 1644 838.6 1645.7 844.1 1647.3 867.2 1649 967.8 1649.3 1004.7 1650.7 868.1 1652.4 818.5 1654 796.5 1655.7 787.2 1657.4 782.5 1659.1 777.8 1660.8 773.2 1662.4 778.6 1664.1 785.8 1665.8 793 1667.5 800.2 1669.1 811.2 1670.8 831.7 1672.5 865 1674.2 916.5 1674.8 930.9 1675.8 917.2 1677.5 892.2 1679.2 877.2 1680.9 873.6 1682.6 879.7 1684.2 897 1685.9 931.7 1687.6 985.5 1687.6 985.6 1689.3 939.1 1690.9 909.8 1692.6 898.5 1694.3 898.4 1696 907.8 1697.6 928.1 1699.3 961.5 1700.4 975.5 1701 970.7 1702.7 942 1704.4 924 1706 917.6 1707.7 920.6 1709.4 932 1711.1 955.4 1712.7 987.8 1713.2 991.2 1714.4 976.1 1716.1 948.4 1717.8 933.8 1719.4 929.8 1721.1 935.2 1722.8 951 1724.5 979.9 1726 1004.3 1726.2 1004.1 1727.8 976.6 1729.5 953.8 1731.2 943.7 1732.9 943.4 1734.5 952 1736.2 969.9 1737.9 993 1738.8 998.2 1739.6 994.1 1741.3 975.6 1742.9 961.7 1744.6 956.5 1746.3 959.5 1748 969.7 1749.6 988.4 1751.3 1007.2 1751.6 1008.1 1753 998.3 1754.7 978.4 1756.3 966.4 1758 963.2 1759.7 968.3 1761.4 982.1 1763.1 1002.3 1764.4 1012.2 1764.7 1011.7 1766.4 996.7 1768.1 981.3 1769.8 973.7 1771.4 974.1 1773.1 982.4 1774.8 998.3 1776.5 1016.8 1777.2 1020 1778.1 1015.9 1779.8 999.1 1781.5 986.5 1783.2 981.8 1784.9 984.8 1786.5 995.3 1788.2 1012.7 1789.9 1026.3 1790 1026.4 1791.6 1016.6 1793.2 1000.1 1794.9 990.2 1796.6 988 1798.3 993.3 1799.9 1005.7 1801.6 1021.4 1802.8 1026.8 1803.3 1026 1805 1014.2 1806.7 1001.9 1808.3 995.8 1810 996.7 1811.7 1004.4 1813.4 1017.9 1815 1030.9 1815.6 1032.3 1816.7 1028.5 1818.4 1015.4 1820.1 1005.1 1821.7 1001.3 1823.4 1004.6 1825.1 1015.3 1826.8 1031.5 1828.4 1041.7 1828.5 1041.7 1830.1 1032.3 1831.8 1018.5 1833.5 1010.7 1835.2 1009.9 1836.8 1015.8 1838.5 1027.6 1840.2 1040.8 1841.2 1043.9 1841.9 1042.4 1843.5 1031.7 1845.2 1021.1 1846.9 1015.8 1848.6 1017.1 1850.3 1025.1 1851.9 1039.3 1853.6 1052.6 1854 1053.7 1855.3 1049.1 1857 1034.6 1858.6 1024.3 1860.3 1021.2 1862 1025.2 1863.7 1036.5 1865.3 1053.2 1866.8 1061.8 1867 1061.6 1868.7 1050 1870.4 1035.6 1872.1 1027.6 1873.7 1027 1875.4 1033.5 1877.1 1046.9 1878.8 1061.9 1879.6 1064.9 1880.4 1062.5 1882.1 1049 1883.8 1037.2 1885.5 1032.1 1887.1 1034.1 1888.8 1043.4 1890.5 1058.8 1892.2 1071.4 1892.4 1071.7 1893.9 1064.2 1895.5 1049.5 1897.2 1040.1 1898.9 1037.7 1900.6 1042.3 1902.2 1053.7 1903.9 1069.1 1905.2 1075 1905.6 1074.7 1907.3 1063 1909 1049.2 1910.6 1041.7 1912.3 1041.5 1914 1048.4 1915.7 1062.4 1917.3 1078 1918 1080.4 1919 1076.6 1920.7 1060.6 1922.4 1048.3 1924 1043.3 1925.7 1045.8 1927.4 1055.9 1929.1 1072.6 1930.8 1084.5 1930.8 1084.5 1932.4 1074.1 1934.1 1057.5 1935.8 1047.4 1937.5 1044.9 1939.1 1049.9 1940.8 1062.8 1942.5 1081.2 1943.6 1087.7 1944.2 1086.1 1945.8 1068.9 1947.5 1052.8 1949.2 1044.7 1950.9 1044.7 1952.6 1052.6 1954.2 1068.8 1955.9 1086.9 1956.4 1088.5 1957.6 1081 1959.3 1060.3 1960.9 1046.5 1962.6 1041.3 1964.3 1044.2 1966 1055.6 1967.6 1075.6 1969.2 1088.9 1969.3 1088.7 1971 1071.1 1972.7 1050.5 1974.4 1038.7 1976 1035.9 1977.7 1041.9 1979.4 1058.4 1981.1 1086.2 1982 1096 1982.7 1090.1 1984.4 1060 1986.1 1039.9 1987.8 1031 1989.4 1031.3 1991.1 1039.7 1992.8 1057.8 1994.5 1076.3 1994.8 1076.6 1996.2 1063 1997.8 1040.3 1999.5 1025.2 2001.2 1019.2 2002.9 1021.9 2004.5 1035.4 2006.2 1065.9 2007.6 1095.5 2007.9 1093.5 2009.6 1048.8 2011.2 1019.8 2012.9 1005.8 2014.6 1001.8 2016.3 1006.6 2018 1023.6 2019.6 1055.8 2020.4 1063.8 2021.3 1048.8 2023 1010.7 2024.7 987 2026.3 975.4 2028 970.6 2029.7 976.3 2031.4 1000.2 2033 1067.7 2033.2 1070.4 2034.7 993.3 2036.4 945.9 2038.1 919 2039.8 903.7 2041.4 892.4 2043.1 881.1 2044.8 884.7 2046.5 889.2 2048.1 893.7 2049.8 898.2 2051.5 902.7 2053.2 924.3 2054.8 950.2 2056.5 984.1 2058.2 1057.6 2058.8 1089.6 2059.9 1039.3 2061.6 999.9 2063.2 985.7 2064.9 981.7 2066.6 988 2068.3 1005.8 2069.9 1042.1 2071.6 1097.4 2071.6 1097.3 2073.3 1045.9 2075 1017 2076.7 1005.7 2078.3 1005 2080 1014.1 2081.7 1034.8 2083.4 1070.2 2084.4 1087.5 2085 1081.3 2086.7 1047.7 2088.4 1028.3 2090.1 1020.4 2091.7 1022.2 2093.4 1034.2 2095.1 1060.5 2096.8 1102.7 2097.2 1106.3 2098.5 1080.8 2100.1 1048.3 2101.8 1032.6 2103.5 1027.7 2105.2 1032.1 2106.8 1046.3 2108.5 1070.7 2110 1089.1 2110.2 1088.9 2111.9 1066.1 2113.5 1044.2 2115.2 1033.4 2116.9 1032.1 2118.6 1039.9 2120.3 1058.1 2121.9 1084.2 2122.8 1090.3 2123.6 1083.8 2125.3 1059 2127 1042.6 2128.6 1035.8 2130.3 1037.3 2132 1047.1 2133.7 1064.7 2135.3 1080.4 2135.6 1080.7 2137 1070.5 2138.7 1051.9 2140.4 1040.3 2142.1 1036.8 2143.7 1041.2 2145.4 1053.2 2147.1 1070.3 2148.4 1077.2 2148.8 1076.4 2150.4 1062.2 2152.1 1047.3 2153.8 1039.3 2155.5 1038.6 2157.1 1044.8 2158.8 1057.1 2160.5 1069.6 2161.2 1071.2 2162.2 1067.8 2163.9 1054.3 2165.5 1043.1 2167.2 1038.2 2168.9 1040 2170.6 1048.3 2172.2 1061.2 2173.9 1069.3 2174 1069.3 2175.6 1062 2177.3 1049.1 2178.9 1040.4 2180.6 1038.1 2182.3 1042.2 2184 1052 2185.7 1063.4 2186.8 1066.4 2187.3 1065.3 2189 1055.3 2190.7 1044.6 2192.4 1038.7 2194 1038.7 2195.7 1043.7 2197.4 1052.2 2199.1 1058.8 2199.6 1059.3 2200.7 1056.8 2202.4 1048.5 2204.1 1041.2 2205.8 1038 2207.5 1039.8 2209.1 1045.9 2210.8 1053.6 2212.4 1057 2212.5 1057 2214.2 1052.5 2215.8 1044.9" fill="none" stroke="#000" stroke-width="5.5" stroke-linejoin="round" stroke-linecap="round"/>
<path d="M159.8 79.6 160.3 79.2 160.8 78.9 161.3 78.6 161.9 78.3 162.4 78 162.9 77.6 163.4 77.3 163.9 77 164.4 76.7 164.9 76.3 165.4 76.1 165.9 75.9 166.4 75.7 166.9 75.5 167.4 75.3 167.9 75.1 168.4 74.9 168.9 74.7 169.4 74.5 169.9 74.3 170.4 74.1 170.9 73.9 171.4 73.7 171.9 73.5 172.4 73.3 172.9 73.1 173.4 72.9 173.9 72.7 174.4 72.5 174.9 72.3 175.4 72.1 175.9 72 176.4 71.8 176.9 71.7 177.4 71.5 178 71.4 178.5 71.2 179 71.1 179.5 70.9 180 70.8 180.5 70.6 181 70.5 181.5 70.3 182 70.2 182.5 70 183 69.9 183.5 69.7 184 69.6 184.5 69.4 185 69.3 185.5 69.2 186 69 186.5 68.9 187 68.8 187.5 68.7 188 68.6 188.5 68.5 189 68.4 189.5 68.3 190 68.2 190.5 68.1 191 68 191.5 67.9 192 67.8 192.5 67.7 193 67.6 193.5 67.5 194.1 67.4 194.6 67.3 195.1 67.2 195.6 67.2 196.1 67.2 196.6 67.2 197.1 67.2 197.6 67.2 198.1 67.1 198.6 67.1 199.1 67.1 199.6 67.1 200.1 67.1 200.6 67.1 201.1 67 201.6 67 202.1 67 202.6 67 203.1 67 203.6 67 204.1 66.9 204.6 66.9 205.1 66.9 205.6 66.9 206.1 66.9 206.6 66.9 207.1 66.8 207.6 66.8 208.1 66.8 208.6 66.8 209.1 66.8 209.6 66.8 210.1 66.8 210.7 66.8 211.2 66.8 211.7 66.8 212.2 66.8 212.7 66.8 213.2 66.8 213.7 66.8 214.2 66.8 214.7 66.8 215.2 66.8 215.7 66.8 216.2 66.8 216.7 66.8 217.2 66.8 217.7 66.8 218.2 66.8 218.7 66.8 219.2 66.8 219.7 66.8 220.2 66.8 220.7 66.8 221.2 66.8 221.7 66.8 222.2 66.8 222.7 66.8 223.2 66.8 223.7 66.8 224.2 66.8 224.7 66.8 225.2 66.8 225.7 66.8 226.2 66.8 226.8 66.8 227.3 66.8 227.8 66.8 228.3 66.8 228.8 66.8 229.3 66.8 229.8 66.8 230.3 66.8 230.8 66.8 231.3 66.8 231.8 66.8 232.3 66.8 232.8 66.8 233.3 66.8 233.8 66.8 234.3 66.8 234.8 66.8 235.3 66.8 235.8 66.8 236.3 66.8 236.8 66.8 237.3 66.8 237.8 67 238.3 67.1 238.8 67.2 239.3 67.3 239.8 67.5 240.3 67.6 240.8 67.7 241.3 67.8 241.8 68 242.3 68.1 242.9 68.2 243.4 68.7 243.9 69.5 244.4 70.2 244.9 70.9 245.4 71.6 245.9 72.3 246.4 73 246.9 73.7 247.4 74.4 247.9 75.1 248.4 76.3 248.9 77.7 249.4 79.1 249.9 80.5 250.4 81.8 250.9 83.2 251.4 84.6 251.9 86 252.4 87.5 252.9 89 253.4 90.5 253.9 92 254.4 93.5 254.9 95 255.4 96.5 255.9 98 256.4 99.6 256.9 101.1 257.4 102.3 257.9 103.5 258.4 104.6 259 105.8 259.5 107 260 108.1 260.5 109.3 261 110.5 261.5 111.7 262 112.9 262.5 114.1 263 115.4 263.5 116.5 264 117.5 264.5 118.9 265 120 265.5 120.9 266 122.1 266.5 123.1 267 124 267.5 124.8 268 125.1 268.5 125.9 269 127.2 269.5 127.5 270 128.4 270.5 129.1 271 130 271.5 130.8 272 131.7 272.5 132.9 273 133.4 273.5 135.2 274 136.5 274.5 137 275 138.9 275.6 139.9 276.1 141.1 276.6 142 277.1 142.1 277.6 142.9 278.1 142.7 278.6 143.8 279.1 143.5 279.6 142.6 280.1 143.1 280.6 143.6 281.1 143.9 281.6 144.5 282.1 145.1 282.6 145.7 283.1 146.3 283.6 147 284.1 148.2 284.6 148.8 285.1 150.7 285.6 151.6 286.1 152.5 286.6 153.9 287.1 154.1 287.6 154.4 288.1 154.1 288.6 154.5 289.1 155 289.6 154 290.1 152.8 290.6 153.1 291.1 153.8 291.7 153.8 292.2 154.2 292.7 154.9 293.2 155.1 293.7 155.8 294.2 157.6 294.7 157.2 295.2 161.2 295.7 160.3 296.2 164.1 296.7 165.5 297.2 165.1 297.7 166.6 298.2 167.2 298.7 167.4 299.2 166.1 299.7 166.3 300.2 163.1 300.7 162.9 301.2 162 301.7 162.8 302.2 162.5 302.7 162.9 303.2 163.3 303.7 164.2 304.2 164.2 304.7 165.1 305.2 167.3 305.7 167.8 306.2 172.9 306.7 170.5 307.2 176.5 307.8 175.2 308.3 178.6 308.8 179.3 309.3 179.5 309.8 180.5 310.3 178.5 310.8 177 311.3 173.3 311.8 171.3 312.3 172.1 312.8 171.6 313.3 172.2 313.8 172.8 314.3 172.9 314.8 174 315.3 176.7 315.8 177.3 316.3 179.5 316.8 178.3 317.3 183.2 317.8 184.7 318.3 191.2 318.8 191.7 319.3 195.6 319.8 195 320.3 196.7 320.8 196.6 321.3 186 321.8 192.4 322.3 189.4 322.8 182.9 323.3 180.1 323.9 180.2 324.4 181.4 324.9 180.8 325.4 181.2 325.9 181.6 326.4 183 326.9 184.6 327.4 186.2 327.9 191.8 328.4 188.7 328.9 195.7 329.4 194.8 329.9 202.3 330.4 203.9 330.9 204.5 331.4 204.1 331.9 197.9 332.4 200.6 332.9 194.1 333.4 198.5 333.9 190.9 334.4 188.7 334.9 187.1 335.4 188.4 335.9 188.1 336.4 188.2 336.9 188.1 337.4 189.5 337.9 189 338.4 198.6 338.9 192.1 339.4 197.5 339.9 207.4 340.5 210.7 341 214.5 341.5 212.6 342 215 342.5 214.3 343 211.3 343.5 213.8 344 211.1 344.5 208.2 345 195.5 345.5 195 346 193.7 346.5 194.1 347 194.5 347.5 194.5 348 194.4 348.5 194.7 349 201 349.5 200.7 350 208.5 350.5 201.4 351 214 351.5 218.7 352 216.8 352.5 225.2 353 228.9 353.5 228.8 354 227.9 354.5 229.4 355 223.6 355.5 214.9 356 218.6 356.6 207.1 357.1 201.5 357.6 200.1 358.1 202.7 358.6 200.5 359.1 200.7 359.6 202.3 360.1 204.8 360.6 202.2 361.1 203.7 361.6 218.3 362.1 210.7 362.6 217.1 363.1 229.7 363.6 231.5 364.1 236.2 364.6 234.5 365.1 232.3 365.6 228.9 366.1 234.9 366.6 217.1 367.1 221.7 367.6 216.2 368.1 217.4 368.6 208.3 369.1 208.5 369.6 206.1 370.1 206.1 370.6 206.6 371.1 206.6 371.6 207.9 372.1 209 372.7 222.7 373.2 217.2 373.7 235.2 374.2 233.7 374.7 231.6 375.2 245.3 375.7 246.1 376.2 249.1 376.7 242.5 377.2 244.7 377.7 242 378.2 242.5 378.7 231.6 379.2 232.9 379.7 215.3 380.2 217.5 380.7 211.2 381.2 213.4 381.7 211.5 382.2 211.5 382.7 213.4 383.2 220 383.7 213.6 384.2 227.2 384.7 236.8 385.2 228.9 385.7 241.7 386.2 248.4 386.7 248.5 387.2 249.8 387.7 253.3 388.2 251.3 388.8 252.1 389.3 230.7 389.8 243.7 390.3 225.5 390.8 223 391.3 219.4 391.8 214 392.3 214.1 392.8 214.1 393.3 214.8 393.8 215 394.3 214.6 394.8 217.5 395.3 218.1 395.8 225.4 396.3 223.1 396.8 239.2 397.3 246.4 397.8 246.7 398.3 249.8 398.8 258.5 399.3 257.9 399.8 259.5 400.3 244.1 400.8 234.6 401.3 227.4 401.8 239.7 402.3 231.7 402.8 218.1 403.3 216.6 403.8 216.5 404.3 216.8 404.8 216.9 405.4 216.8 405.9 216.8 406.4 220.5 406.9 220.6 407.4 228.5 407.9 248 408.4 255.2 408.9 240.9 409.4 257.8 409.9 263.6 410.4 262.7 410.9 263.8 411.4 259.9 411.9 244 412.4 248.3 412.9 236.6 413.4 235 413.9 221.5 414.4 219.4 414.9 218.3 415.4 219.2 415.9 218.7 416.4 217.9 416.9 217.7 417.4 217.7 417.9 223.9 418.4 225.4 418.9 221.7 419.4 226.7 419.9 230.8 420.4 249.5 420.9 251.8 421.5 246.7 422 250.1 422.5 249.3 423 247.2 423.5 252.3 424 235.6 424.5 242.5 425 227.1 425.5 229.6 426 223 426.5 217.9 427 219.8 427.5 217.6 428 217.9 428.5 217.4 429 217.4 429.5 218.2 430 219.3 430.5 228.3 431 238.5 431.5 244.8 432 246 432.5 257.4 433 254.8 433.5 257.6 434 253.3 434.5 254.4 435 249.5 435.5 254.4 436 231.6 436.5 227.4 437 220.1 437.6 219 438.1 225.7 438.6 217.4 439.1 215.9 439.6 215.9 440.1 215.7 440.6 215.8 441.1 216.5 441.6 220.3 442.1 232.3 442.6 225.5 443.1 237.3 443.6 236.1 444.1 242.7 444.6 260.3 445.1 259.2 445.6 257.6 446.1 250 446.6 252.6 447.1 258.2 447.6 239.2 448.1 234.6 448.6 230.9 449.1 215.4 449.6 214.1 450.1 212 450.6 211.3 451.1 211 451.6 210.8 452.1 210.5 452.6 210.3 453.1 219.8 453.7 215.8 454.2 230 454.7 220.4 455.2 230.5 455.7 244.5 456.2 249 456.7 253 457.2 251 457.7 247.5 458.2 237.7 458.7 244.1 459.2 241 459.7 222.5 460.2 216.2 460.7 225.6 461.2 213.1 461.7 208 462.2 205.4 462.7 206 463.2 204.7 463.7 205.5 464.2 211.2 464.7 210.8 465.2 219.8 465.7 218.9 466.2 221.2 466.7 225.1 467.2 244.3 467.7 247.3 468.2 246.3 468.7 243.8 469.2 246.2 469.7 231.4 470.3 224.1 470.8 236.7 471.3 222.3 471.8 219.7 472.3 203.1 472.8 204.9 473.3 196.6 473.8 200.5 474.3 195.4 474.8 195.1 475.3 194.8 475.8 198 476.3 197.7 476.8 194.5 477.3 197.9 477.8 209.4 478.3 207.1 478.8 218.2 479.3 220.7 479.8 216.1 480.3 220.3 480.8 218 481.3 215.7 481.8 216.6 482.3 205.9 482.8 199.1 483.3 205.8 483.8 197.4 484.3 195.4 484.8 192.7 485.3 187 485.8 185.3 486.4 184.3 486.9 183.5 487.4 183 487.9 188.1 488.4 184.2 488.9 186 489.4 194.8 489.9 207.5 490.4 199.1 490.9 208 491.4 204.5 491.9 215.3 492.4 213.3 492.9 214 493.4 211.1 493.9 208.3 494.4 185.8 494.9 198.5 495.4 175.1 495.9 184.8 496.4 170.2 496.9 172.7 497.4 166.6 497.9 165.7 498.4 165 498.9 163.8 499.4 163.9 499.9 163.5 500.4 169.7 500.9 172.1 501.4 173.9 501.9 186.3 502.5 181.5 503 189.9 503.5 187.1 504 188.9 504.5 185.8 505 186.6 505.5 170 506 179.6 506.5 171.2 507 161 507.5 149.2 508 148.4 508.5 148.5 509 141.3 509.5 139.2 510 137.6 510.5 136.7 511 134.9 511.5 136.1 512 136.9 512.5 139.4 513 140.4 513.5 136.4 514 135.4 514.5 139.1 515 136.6 515.5 133.5 516 130.4 516.5 127.4 517 118.2 517.5 114.4 518 114.5 518.6 109.6 519.1 100 519.6 99.7 520.1 93.3 520.6 90.9 521.1 88 521.6 86 522.1 84 522.6 81.9 523.1 79.9 523.6 77.9 524.1 76.2 524.6 75.8 525.1 75.3 525.6 74.9 526.1 74.5 526.6 74.1 527.1 73.7 527.6 73.3 528.1 73.5 528.6 73.8 529.1 74.1 529.6 74.4 530.1 74.7 530.6 75 531.1 75.6 531.6 77 532.1 78.4 532.6 79.8 533.1 81.1 533.6 82.5 534.1 83.9 534.6 85.5 535.2 87.1 535.7 89.9 536.2 93.4 536.7 95.1 537.2 103.5 537.7 107.2 538.2 106.2 538.7 110.5 539.2 118.5 539.7 123.3 540.2 126.4 540.7 127.8 541.2 132.6 541.7 126.7 542.2 137.1 542.7 138.3 543.2 129.9 543.7 142.7 544.2 141.3 544.7 137.8 545.2 139.5 545.7 140.4 546.2 143.1 546.7 146 547.2 148.6 547.7 153.9 548.2 156 548.7 160.7 549.2 173 549.7 167.6 550.2 189.4 550.7 198.7 551.3 191.5 551.8 193.4 552.3 211.8 552.8 209.2 553.3 217.2 553.8 219 554.3 203.2 554.8 218.7 555.3 207.7 555.8 180.9 556.3 183.4 556.8 188.7 557.3 173.3 557.8 173.5 558.3 174.7 558.8 175 559.3 175.8 559.8 177.5 560.3 177.9 560.8 178.4 561.3 183.8 561.8 185.1 562.3 198.9 562.8 192.5 563.3 211.2 563.8 214.6 564.3 221.1 564.8 237.5 565.3 237 565.8 240.1 566.3 237.2 566.8 238.8 567.4 226.4 567.9 210.3 568.4 215.6 568.9 196.9 569.4 192.2 569.9 195 570.4 192 570.9 189.9 571.4 192 571.9 191.1 572.4 192 572.9 196.9 573.4 193.1 573.9 216.5 574.4 201.7 574.9 231.9 575.4 236.3 575.9 253.2 576.4 253.1 576.9 263.2 577.4 253.3 577.9 272.4 578.4 272.2 578.9 262.2 579.4 273.9 579.9 268.5 580.4 250.9 580.9 238 581.4 240.8 581.9 217.3 582.4 211 582.9 219.4 583.5 209.4 584 205.6 584.5 206.2 585 206.8 585.5 210 586 216.3 586.5 211.5 587 214.3 587.5 220 588 248.2 588.5 258.7 589 262.7 589.5 267.2 590 256.3 590.5 264.8 591 271.7 591.5 272.4 592 256.4 592.5 270.1 593 266.5 593.5 231.6 594 233.5 594.5 230.3 595 235 595.5 222.9 596 221.6 596.5 220.7 597 221.4 597.5 221.9 598 227.4 598.5 226.7 599 225.8 599.5 231 600.1 245.6 600.6 247.4 601.1 267.9 601.6 290.8 602.1 289.4 602.6 299.5 603.1 291 603.6 297.6 604.1 299.8 604.6 283.6 605.1 290.7 605.6 278.5 606.1 286.5 606.6 244.6 607.1 245.6 607.6 256.3 608.1 243 608.6 231.3 609.1 231.5 609.6 232 610.1 232.4 610.6 233 611.1 232.8 611.6 241.4 612.1 241.8 612.6 252.9 613.1 259.4 613.6 250.4 614.1 260 614.6 280.2 615.1 290.3 615.6 294.3 616.2 291 616.7 290.4 617.2 294.6 617.7 269.4 618.2 272.8 618.7 274.1 619.2 270.7 619.7 246.5 620.2 247.2 620.7 241 621.2 242.9 621.7 244.4 622.2 241.9 622.7 242.5 623.2 243 623.7 248 624.2 247.1 624.7 252.1 625.2 269.9 625.7 284.9 626.2 297.1 626.7 294.7 627.2 317.7 627.7 323.9 628.2 328 628.7 329.3 629.2 327.7 629.7 317.5 630.2 327.5 630.7 285.9 631.2 280.8 631.7 303.8 632.3 288.5 632.8 258.1 633.3 267.3 633.8 252.3 634.3 252.3 634.8 252.8 635.3 252.8 635.8 253.5 636.3 257.7 636.8 254.3 637.3 257.7 637.8 294.5 638.3 270 638.8 307.6 639.3 284.8 639.8 321.2 640.3 331.9 640.8 336.6 641.3 334.6 641.8 326.9 642.3 321.4 642.8 312.2 643.3 307.9 643.8 300.3 644.3 288.2 644.8 270.3 645.3 290.4 645.8 262.6 646.3 260.3 646.8 261.7 647.3 262.3 647.8 260.4 648.4 260.6 648.9 266.7 649.4 272.6 649.9 266.7 650.4 276.5 650.9 271.5 651.4 286.3 651.9 306 652.4 317.5 652.9 322.4 653.4 325.3 653.9 322.3 654.4 326.3 654.9 325.4 655.4 322 655.9 303.8 656.4 304.2 656.9 279 657.4 300.8 657.9 286.7 658.4 267.7 658.9 270.9 659.4 267.3 659.9 267.6 660.4 268.1 660.9 271.9 661.4 268.6 661.9 281.1 662.4 285.1 662.9 276.2 663.4 312.2 663.9 315 664.4 339.5 665 335.7 665.5 338.5 666 364.4 666.5 364.7 667 364.9 667.5 350.4 668 355.3 668.5 339.6 669 316.2 669.5 292.8 670 329.2 670.5 305.4 671 288.3 671.5 275.6 672 274.8 672.5 275.5 673 275.1 673.5 275.4 674 276.1 674.5 281.9 675 290.4 675.5 279.8 676 285.8 676.5 323.8 677 300.7 677.5 332.8 678 344.7 678.5 336.8 679 350 679.5 351.2 680 337.1 680.5 327.7 681.1 342.2 681.6 334.3 682.1 300.6 682.6 322 683.1 303.5 683.6 304.5 684.1 279.9 684.6 282.4 685.1 282.1 685.6 280.4 686.1 281.3 686.6 286 687.1 281.9 687.6 284 688.1 286 688.6 330.7 689.1 302.6 689.6 338.1 690.1 332.8 690.6 354.8 691.1 370.6 691.6 372.9 692.1 372.9 692.6 362.3 693.1 356.9 693.6 361.8 694.1 324.2 694.6 323.9 695.1 307.8 695.6 314.5 696.1 298 696.6 302.8 697.2 287.2 697.7 287.5 698.2 287.9 698.7 288.1 699.2 288.4 699.7 288.7 700.2 290.3 700.7 303.5 701.2 310.2 701.7 328.6 702.2 317.3 702.7 366 703.2 376.1 703.7 376.1 704.2 381.8 704.7 382.9 705.2 379.8 705.7 378.8 706.2 377 706.7 366 707.2 339.8 707.7 306.6 708.2 317.7 708.7 316.9 709.2 300.4 709.7 293.8 710.2 293.9 710.7 295.9 711.2 294.4 711.7 294.7 712.2 303.4 712.7 304.7 713.2 303.6 713.8 306.5 714.3 310.2 714.8 335.2 715.3 355.4 715.8 352 716.3 344.6 716.8 357.1 717.3 363.9 717.8 367.3 718.3 349.4 718.8 364.9 719.3 336.5 719.8 340.4 720.3 338 720.8 315.3 721.3 307.4 721.8 301.2 722.3 299.8 722.8 300 723.3 300 723.8 300.2 724.3 305 724.8 308.8 725.3 305.4 725.8 315.1 726.3 311.1 726.8 339.8 727.3 349.1 727.8 358.5 728.3 375.3 728.8 372.9 729.3 379.8 729.9 376.1 730.4 372.9 730.9 379.8 731.4 377 731.9 341.5 732.4 365.4 732.9 329.3 733.4 327.3 733.9 325.2 734.4 309.1 734.9 303.5 735.4 304 735.9 304.1 736.4 303.6 736.9 304.8 737.4 311.1 737.9 319.8 738.4 310.6 738.9 333.2 739.4 355.9 739.9 332.6 740.4 367.9 740.9 349.8 741.4 379.8 741.9 388.8 742.4 391.5 742.9 394.6 743.4 393 743.9 373.7 744.4 380.8 744.9 356.9 745.4 332.5 746 337.4 746.5 311.4 747 326.9 747.5 308.1 748 310.1 748.5 307.9 749 308.1 749.5 312.4 750 308.4 750.5 321.3 751 314.2 751.5 342.4 752 329.3 752.5 352.7 753 365.1 753.5 347.2 754 367.9 754.5 387.5 755 388.8 755.5 387.5 756 388.8 756.5 388.8 757 382.9 757.5 359.6 758 345.7 758.5 337.3 759 326.7 759.5 322.5 760 318.6 760.5 313.9 761 312.7 761.5 312.9 762.1 313 762.6 313.8 763.1 320.6 763.6 318.4 764.1 319.3 764.6 358.5 765.1 360.9 765.6 377 766.1 377.9 766.6 385.1 767.1 381.8 767.6 403.8 768.1 406 768.6 406 769.1 374.5 769.6 388.8 770.1 373.7 770.6 340.3 771.1 347.7 771.6 335.7 772.1 324.5 772.6 320.4 773.1 321 773.6 318.5 774.1 316.6 774.6 316.9 775.1 317.6 775.6 323.3 776.1 320.2 776.6 339 777.1 333.5 777.6 370.6 778.1 384 778.7 381.8 779.2 372.1 779.7 406 780.2 399.7 780.7 401.7 781.2 408.4 781.7 406 782.2 403.8 782.7 382.9 783.2 361.3 783.7 370.6 784.2 329.1 784.7 335.8 785.2 326.1 785.7 322.6 786.2 320.2 786.7 320.3 787.2 323 787.7 320.7 788.2 328.5 788.7 324.4 789.2 345.3 789.7 355.6 790.2 345.5 790.7 360.8 791.2 399.7 791.7 403.8 792.2 385.1 792.7 406 793.2 403.8 793.7 397.9 794.2 401.7 794.8 372.9 795.3 372.9 795.8 348.1 796.3 339.7 796.8 349.3 797.3 344.2 797.8 338 798.3 325.4 798.8 323.3 799.3 323.4 799.8 325.4 800.3 328.5 800.8 325.4 801.3 336.7 801.8 345.9 802.3 345.1 802.8 340.2 803.3 370.6 803.8 377.9 804.3 393 804.8 399.7 805.3 406 805.8 406 806.3 401.7 806.8 393 807.3 372.9 807.8 394.6 808.3 355 808.8 354.7 809.3 334.2 809.8 335.2 810.3 327.9 810.9 325.5 811.4 329.6 811.9 325.6 812.4 325.7 812.9 326.1 813.4 326.3 813.9 338.3 814.4 328.3 814.9 342.3 815.4 363.4 815.9 346.4 816.4 379.8 816.9 390.1 817.4 396.2 817.9 394.6 818.4 391.5 818.9 384 819.4 386.3 819.9 387.5 820.4 382.9 820.9 368.6 821.4 345.2 821.9 342.6 822.4 342 822.9 335.4 823.4 330.8 823.9 329.2 824.4 326.2 824.9 326.1 825.4 327.6 825.9 326.1 826.4 325.9 827 329.9 827.5 336.7 828 342.3 828.5 356.6 829 363.1 829.5 371.4 830 359.7 830.5 372.9 831 369.9 831.5 368.6 832 367.3 832.5 370.6 833 368.6 833.5 353.4 834 339.9 834.5 335.9 835 336 835.5 326.9 836 324.8 836.5 325.6 837 324.4 837.5 324.5 838 325.2 838.5 327.3 839 325.9 839.5 332.8 840 330.5 840.5 334.3 841 341.2 841.5 359.9 842 358.5 842.5 362.4 843 360.9 843.6 365.4 844.1 366 844.6 358.1 845.1 365.1 845.6 343.5 846.1 348.3 846.6 348.1 847.1 336.1 847.6 330.7 848.1 325.1 848.6 323 849.1 324 849.6 322.3 850.1 322.3 850.6 322.2 851.1 326.4 851.6 322.4 852.1 326.3 852.6 339.1 853.1 332 853.6 330.2 854.1 335.2 854.6 355.9 855.1 361.5 855.6 360.1 856.1 360.5 856.6 361.8 857.1 361.1 857.6 360.6 858.1 351.7 858.6 340.5 859.1 338.5 859.7 339.5 860.2 325 860.7 331.9 861.2 321.3 861.7 318.8 862.2 318.8 862.7 316.8 863.2 316.3 863.7 317.9 864.2 315.6 864.7 326.1 865.2 318.7 865.7 326.9 866.2 336.2 866.7 335.4 867.2 346.1 867.7 345.7 868.2 347.2 868.7 351.3 869.2 346.4 869.7 348.3 870.2 348.6 870.7 341.8 871.2 343.1 871.7 330.2 872.2 316.9 872.7 309 873.2 310.9 873.7 306.2 874.2 305.6 874.7 301.5 875.2 300.8 875.8 299.1 876.3 298.4 876.8 301.3 877.3 297.6 877.8 297.5 878.3 299.2 878.8 304.6 879.3 310.4 879.8 315.2 880.3 318.1 880.8 328.1 881.3 322.9 881.8 325.8 882.3 322.1 882.8 315 883.3 306.2 883.8 304.8 884.3 305.5 884.8 306.2 885.3 287.6 885.8 292.4 886.3 283.2 886.8 275.8 887.3 273.4 887.8 271.8 888.3 268.9 888.8 266.4 889.3 264.9 889.8 267.6 890.3 267 890.8 270.1 891.3 284.8 891.9 293.7 892.4 285.7 892.9 280.8 893.4 286.1 893.9 295.2 894.4 289.7 894.9 285.2 895.4 267.6 895.9 266.1 896.4 246.6 896.9 240.2 897.4 231.8 897.9 225.8 898.4 213.8 898.9 213.6 899.4 205.9 899.9 202 900.4 200.2 900.9 197.9 901.4 196 901.9 194.1 902.4 192.2 902.9 190.3 903.4 188.4 903.9 186.5 904.4 185.6 904.9 184.9 905.4 184.1 905.9 183.3 906.4 182.6 906.9 181.8 907.4 182.1 907.9 182.5 908.5 183 909 183.4 909.5 183.8 910 184.2 910.5 185.3 911 186.4 911.5 187.6 912 188.7 912.5 189.8 913 191 913.5 192.1 914 194.3 914.5 197.2 915 201.5 915.5 209.8 916 212.7 916.5 225.4 917 226.9 917.5 236.2 918 237.9 918.5 255.4 919 256.6 919.5 269.2 920 272.4 920.5 277.6 921 287.9 921.5 288.3 922 292.4 922.5 294.5 923 281 923.5 284.5 924 281.9 924.6 281.5 925.1 283.1 925.6 281.5 926.1 282.4 926.6 283.9 927.1 284.5 927.6 285.6 928.1 290.8 928.6 296.4 929.1 295.6 929.6 311.9 930.1 328.9 930.6 333.6 931.1 337.6 931.6 349.5 932.1 352.2 932.6 353.5 933.1 357.9 933.6 358.2 934.1 337.6 934.6 338.1 935.1 357.3 935.6 348.1 936.1 344.5 936.6 333.1 937.1 329.4 937.6 316.4 938.1 317.5 938.6 317.7 939.1 318.7 939.6 319 940.1 319.9 940.7 333.7 941.2 332.5 941.7 342.7 942.2 335.7 942.7 347.7 943.2 374.5 943.7 373.7 944.2 384 944.7 385.1 945.2 382.9 945.7 386.3 946.2 384 946.7 386.3 947.2 356.3 947.7 360.4 948.2 349.4 948.7 351.5 949.2 342.8 949.7 336.6 950.2 343.9 950.7 337 951.2 335.9 951.7 335.5 952.2 335.9 952.7 336.5 953.2 344 953.7 352.1 954.2 344 954.7 357.7 955.2 367.3 955.7 379.8 956.2 384 956.8 384 957.3 396.2 957.8 397.9 958.3 397.9 958.8 394.6 959.3 397.9 959.8 394.6 960.3 391.5 960.8 367.3 961.3 381.8 961.8 356.2 962.3 359 962.8 364.7 963.3 357.6 963.8 352.9 964.3 354 964.8 354.5 965.3 355.5 965.8 355.6 966.3 365.3 966.8 364.5 967.3 369.2 967.8 368.6 968.3 372.9 968.8 408.4 969.3 408.4 969.8 413.9 970.3 417.1 970.8 417.1 971.3 417.1 971.8 420.6 972.3 403.8 972.8 396.2 973.4 399.7 973.9 401.7 974.4 371.4 974.9 370.6 975.4 366.6 975.9 369.9 976.4 369.2 976.9 366.6 977.4 366.6 977.9 367.3 978.4 367.3 978.9 369.9 979.4 380.8 979.9 394.6 980.4 401.7 980.9 396.2 981.4 393 981.9 401.7 982.4 429.3 982.9 434.8 983.4 429.3 983.9 429.3 984.4 424.7 984.9 434.8 985.4 420.6 985.9 406 986.4 406 986.9 388.8 987.4 391.5 987.9 381.8 988.4 377 988.9 373.7 989.5 373.7 990 374.5 990.5 374.5 991 375.3 991.5 380.8 992 376.1 992.5 393 993 380.8 993.5 386.3 994 397.9 994.5 401.7 995 408.4 995.5 420.6 996 424.7 996.5 424.7 997 420.6 997.5 413.9 998 417.1 998.5 411 999 397.9 999.5 401.7 1000 397.9 1000.5 401.7 1001 385.1 1001.5 386.3 1002 386.3 1002.5 385.1 1003 385.1 1003.5 385.1 1004 385.1 1004.5 386.3 1005 408.4 1005.6 391.5 1006.1 429.3 1006.6 424.7 1007.1 434.8 1007.6 434.8 1008.1 462.4 1008.6 462.4 1009.1 450.2 1009.6 462.4 1010.1 462.4 1010.6 462.4 1011.1 429.3 1011.6 441.5 1012.1 429.3 1012.6 424.7 1013.1 424.7 1013.6 406 1014.1 399.7 1014.6 397.9 1015.1 399.7 1015.6 399.7 1016.1 399.7 1016.6 401.7 1017.1 401.7 1017.6 413.9 1018.1 408.4 1018.6 417.1 1019.1 434.8 1019.6 424.7 1020.1 462.4 1020.6 462.4 1021.1 450.2 1021.7 462.4 1022.2 462.4 1022.7 462.4 1023.2 462.4 1023.7 450.2 1024.2 441.5 1024.7 450.2 1025.2 417.1 1025.7 413.9 1026.2 417.1 1026.7 411 1027.2 408.4 1027.7 408.4 1028.2 408.4 1028.7 408.4 1029.2 408.4 1029.7 408.4 1030.2 411 1030.7 417.1 1031.2 417.1 1031.7 441.5 1032.2 450.2 1032.7 462.4 1033.2 441.5 1033.7 462.4 1034.2 462.4 1034.7 462.4 1035.2 462.4 1035.7 462.4 1036.2 450.2 1036.7 450.2 1037.2 462.4 1037.7 434.8 1038.3 441.5 1038.8 420.6 1039.3 417.1 1039.8 417.1 1040.3 417.1 1040.8 420.6 1041.3 417.1 1041.8 417.1 1042.3 417.1 1042.8 424.7 1043.3 424.7 1043.8 429.3 1044.3 441.5 1044.8 462.4 1045.3 462.4 1045.8 483.3 1046.8 462.4 1048.3 483.3 1049.8 462.4 1050.8 434.8 1051.3 424.7 1051.8 434.8 1052.3 429.3 1052.8 420.6 1053.3 424.7 1053.8 420.6 1054.4 420.6 1054.9 420.6 1055.4 429.3 1055.9 429.3 1056.4 424.7 1056.9 450.2 1057.4 462.4 1057.9 462.4 1058.4 462.4 1058.9 462.4 1059.4 462.4 1059.9 483.3 1062.4 483.3 1062.9 462.4 1063.4 450.2 1063.9 434.8 1064.4 434.8 1064.9 441.5 1065.4 424.7 1065.9 424.7 1066.4 420.6 1066.9 424.7 1067.4 420.6 1067.9 424.7 1068.4 424.7 1068.9 424.7 1069.4 434.8 1069.9 441.5 1070.5 441.5 1071 462.4 1071.5 483.3 1072 462.4 1074 483.3 1075 462.4 1075.5 450.2 1076 441.5 1076.5 434.8 1077 450.2 1077.5 434.8 1078 434.8 1078.5 420.6 1079 420.6 1079.5 420.6 1080 420.6 1080.5 420.6 1081 420.6 1081.5 434.8 1082 429.3 1082.5 429.3 1083 434.8 1083.5 462.4 1084 441.5 1084.5 462.4 1085 483.3 1087.1 462.4 1087.6 462.4 1088.1 450.2 1088.6 450.2 1089.1 434.8 1089.6 450.2 1090.1 424.7 1090.6 434.8 1091.1 424.7 1091.6 420.6 1092.1 420.6 1092.6 420.6 1093.1 424.7 1093.6 420.6 1094.1 429.3 1094.6 434.8 1095.1 429.3 1095.6 434.8 1096.1 441.5 1096.6 462.4 1097.1 450.2 1097.6 483.3 1100.1 462.4 1100.6 483.3 1101.6 434.8 1102.1 450.2 1102.6 424.7 1103.2 434.8 1103.7 420.6 1104.2 420.6 1104.7 420.6 1105.2 420.6 1105.7 417.1 1106.2 420.6 1106.7 420.6 1107.2 420.6 1107.7 429.3 1108.2 424.7 1108.7 450.2 1109.2 462.4 1109.7 462.4 1110.2 483.3 1112.2 462.4 1112.7 483.3 1113.2 462.4 1113.7 462.4 1114.2 434.8 1114.7 450.2 1115.2 429.3 1115.7 441.5 1116.2 429.3 1116.7 424.7 1117.2 420.6 1117.7 417.1 1118.2 417.1 1118.7 417.1 1119.3 417.1 1119.8 429.3 1120.3 429.3 1120.8 434.8 1121.3 434.8 1121.8 462.4 1122.3 450.2 1122.8 462.4 1123.3 462.4 1123.8 483.3 1125.8 462.4 1126.3 462.4 1126.8 462.4 1127.3 462.4 1127.8 434.8 1128.3 429.3 1128.8 420.6 1129.3 417.1 1129.8 417.1 1130.3 417.1 1130.8 417.1 1131.3 417.1 1131.8 417.1 1132.3 417.1 1132.8 424.7 1133.3 424.7 1133.8 434.8 1134.3 441.5 1134.8 450.2 1135.4 462.4 1135.9 462.4 1136.4 462.4 1136.9 462.4 1137.4 483.3 1137.9 462.4 1138.4 462.4 1138.9 450.2 1139.4 462.4 1139.9 441.5 1140.4 434.8 1140.9 420.6 1141.4 417.1 1141.9 417.1 1142.4 417.1 1142.9 417.1 1143.4 413.9 1143.9 413.9 1144.4 413.9 1144.9 417.1 1145.4 413.9 1145.9 424.7 1146.4 441.5 1146.9 434.8 1147.4 441.5 1147.9 483.3 1148.4 450.2 1150.4 483.3 1150.9 462.4 1151.5 462.4 1152 462.4 1152.5 462.4 1153 434.8 1153.5 450.2 1154 417.1 1154.5 424.7 1155 417.1 1155.5 413.9 1156 413.9 1156.5 413.9 1157 413.9 1157.5 413.9 1158 420.6 1158.5 424.7 1159 441.5 1159.5 429.3 1160 462.4 1160.5 462.4 1161 450.2 1161.5 462.4 1162 483.3 1163.5 462.4 1164.5 483.3 1165 462.4 1165.5 462.4 1166 424.7 1166.5 441.5 1167 413.9 1167.5 413.9 1168.1 411 1168.6 411 1169.1 411 1169.6 411 1170.1 413.9 1170.6 417.1 1171.1 413.9 1171.6 424.7 1172.1 434.8 1172.6 441.5 1173.1 429.3 1173.6 462.4 1174.1 462.4 1174.6 450.2 1175.1 462.4 1175.6 462.4 1176.1 462.4 1176.6 462.4 1177.1 462.4 1177.6 450.2 1178.1 450.2 1178.6 429.3 1179.1 420.6 1179.6 413.9 1180.1 411 1180.6 413.9 1181.1 408.4 1181.6 411 1182.1 408.4 1182.6 408.4 1183.1 408.4 1183.6 408.4 1184.2 413.9 1184.7 420.6 1185.2 424.7 1185.7 434.8 1186.2 434.8 1186.7 462.4 1187.2 462.4 1187.7 483.3 1189.7 462.4 1190.2 483.3 1190.7 462.4 1191.2 462.4 1191.7 434.8 1192.2 413.9 1192.7 424.7 1193.2 406 1193.7 411 1194.2 408.4 1194.7 406 1195.2 406 1195.7 403.8 1196.2 408.4 1196.7 417.1 1197.2 434.8 1197.7 420.6 1198.2 434.8 1198.7 462.4 1199.2 462.4 1199.7 483.3 1202.3 462.4 1202.8 450.2 1203.3 462.4 1203.8 441.5 1204.3 450.2 1204.8 408.4 1205.3 408.4 1205.8 401.7 1206.3 406 1206.8 401.7 1207.3 399.7 1207.8 399.7 1208.3 399.7 1208.8 399.7 1209.3 403.8 1209.8 411 1210.3 408.4 1210.8 429.3 1211.3 413.9 1211.8 429.3 1212.3 441.5 1212.8 450.2 1213.3 450.2 1213.8 462.4 1214.3 462.4 1214.8 462.4 1215.3 462.4 1215.8 441.5 1216.3 429.3 1216.9 434.8 1217.4 413.9 1217.9 417.1 1218.4 397.9 1218.9 394.6 1219.4 394.6 1219.9 394.6 1220.4 394.6 1220.9 394.6 1221.4 394.6 1221.9 403.8 1222.4 394.6 1222.9 396.2 1223.4 417.1 1223.9 441.5 1224.4 413.9 1224.9 450.2 1225.4 462.4 1225.9 462.4 1226.4 462.4 1226.9 462.4 1227.4 450.2 1227.9 450.2 1228.4 441.5 1228.9 434.8 1229.4 413.9 1229.9 413.9 1230.4 391.5 1230.9 388.8 1231.4 391.5 1231.9 385.1 1232.4 387.5 1233 384 1233.5 384 1234 385.1 1234.5 382.9 1235 382.9 1235.5 388.8 1236 401.7 1236.5 406 1237 441.5 1237.5 429.3 1238 450.2 1238.5 462.4 1239 450.2 1239.5 462.4 1240 450.2 1240.5 450.2 1241 424.7 1241.5 434.8 1242 424.7 1242.5 391.5 1243 396.2 1243.5 375.3 1244 385.1 1244.5 370.6 1245 369.2 1245.5 367.9 1246 367.3 1246.5 367.9 1247 365.4 1247.5 369.2 1248 378.8 1248.5 374.5 1249.1 380.8 1249.6 394.6 1250.1 391.5 1250.6 413.9 1251.1 413.9 1251.6 417.1 1252.1 420.6 1252.6 420.6 1253.1 417.1 1253.6 397.9 1254.1 399.7 1254.6 379.8 1255.1 381.8 1255.6 384 1256.1 357.2 1256.6 361.8 1257.1 351.7 1257.6 355.3 1258.1 346 1258.6 346.2 1259.1 344.2 1259.6 343.3 1260.1 345.7 1260.6 342.9 1261.1 344.8 1261.6 344.5 1262.1 355 1262.6 358.1 1263.1 377 1263.6 379.8 1264.1 369.2 1264.6 380.8 1265.2 379.8 1265.7 377.9 1266.2 363.5 1266.7 357.8 1267.2 351.8 1267.7 351.4 1268.2 351 1268.7 343.6 1269.2 328.3 1269.7 320.9 1270.2 316.3 1270.7 310.9 1271.2 309 1271.7 306.7 1272.2 304.7 1272.7 303.6 1273.2 302.2 1273.7 305.2 1274.2 298.7 1274.7 309.7 1275.2 301.5 1275.7 305.7 1276.2 303.6 1276.7 316.3 1277.2 310.3 1277.7 311.3 1278.2 309.2 1278.7 302.8 1279.2 293.2 1279.7 280.2 1280.2 279.2 1280.7 272.5 1281.2 269.1 1281.8 262.5 1282.3 251.4 1282.8 251.3 1283.3 245.8 1283.8 244.7 1284.3 243.1 1284.8 241.8 1285.3 240.6 1285.8 239.3 1286.3 238.1 1286.8 236.8 1287.3 236 1287.8 235.7 1288.3 235.3 1288.8 235 1289.3 234.6 1289.8 234.2 1290.3 233.9 1290.8 234 1291.3 234.3 1291.8 234.7 1292.3 235 1292.8 235.4 1293.3 235.8 1293.8 236.1 1294.3 237.7 1294.8 240 1295.3 242.3 1295.8 244.6 1296.3 246.9 1296.8 249.1 1297.3 251.4 1297.9 253.7 1298.4 256.3 1298.9 260.7 1299.4 262.8 1299.9 274.1 1300.4 289.6 1300.9 285.6 1301.4 303.7 1301.9 313 1302.4 317 1302.9 334 1303.4 339.4 1303.9 343.8 1304.4 341.8 1304.9 337.4 1305.4 333.2 1305.9 335.1 1306.4 331.2 1306.9 320.5 1307.4 328.3 1307.9 316.9 1308.4 322.2 1308.9 317.2 1309.4 320 1309.9 321.5 1310.4 322.6 1310.9 325.1 1311.4 326.4 1311.9 334.2 1312.4 331.1 1312.9 340.8 1313.4 367.3 1314 376.1 1314.5 377 1315 376.1 1315.5 387.5 1316 390.1 1316.5 386.3 1317 387.5 1317.5 396.2 1318 391.5 1318.5 369.9 1319 372.9 1319.5 358 1320 376.1 1320.5 362.1 1321 353.5 1321.5 357.5 1322 356.6 1322.5 357.2 1323 357.2 1323.5 358.3 1324 358.4 1324.5 368.6 1325 362.1 1325.5 369.2 1326 372.9 1326.5 386.3 1327 386.3 1327.5 408.4 1328 408.4 1328.5 413.9 1329 411 1329.5 413.9 1330.1 417.1 1330.6 399.7 1331.1 408.4 1331.6 397.9 1332.1 394.6 1332.6 391.5 1333.1 378.8 1333.6 377 1334.1 371.4 1334.6 372.9 1335.1 371.4 1335.6 372.1 1336.1 372.9 1336.6 379.8 1337.1 385.1 1337.6 384 1338.1 387.5 1338.6 391.5 1339.1 401.7 1339.6 401.7 1340.1 417.1 1340.6 429.3 1341.1 420.6 1341.6 429.3 1342.1 429.3 1342.6 420.6 1343.1 429.3 1343.6 424.7 1344.1 401.7 1344.6 403.8 1345.1 393 1345.6 399.7 1346.1 394.6 1346.7 384 1347.2 384 1347.7 384 1348.2 386.3 1348.7 385.1 1349.2 386.3 1349.7 390.1 1350.2 396.2 1350.7 399.7 1351.2 408.4 1351.7 411 1352.2 420.6 1352.7 417.1 1353.2 434.8 1353.7 434.8 1354.2 434.8 1354.7 434.8 1355.2 434.8 1355.7 424.7 1356.2 434.8 1356.7 434.8 1357.2 429.3 1357.7 408.4 1358.2 411 1358.7 397.9 1359.2 401.7 1359.7 397.9 1360.2 399.7 1360.7 399.7 1361.2 399.7 1361.7 403.8 1362.2 403.8 1362.8 403.8 1363.3 417.1 1363.8 420.6 1364.3 424.7 1364.8 417.1 1365.3 450.2 1365.8 450.2 1366.3 462.4 1366.8 462.4 1367.3 462.4 1367.8 462.4 1368.3 462.4 1368.8 450.2 1369.3 434.8 1369.8 441.5 1370.3 434.8 1370.8 417.1 1371.3 424.7 1371.8 420.6 1372.3 408.4 1372.8 406 1373.3 406 1373.8 403.8 1374.3 406 1374.8 403.8 1375.3 406 1375.8 408.4 1376.3 420.6 1376.8 411 1377.3 417.1 1377.8 424.7 1378.3 441.5 1378.9 429.3 1379.4 441.5 1379.9 450.2 1380.4 450.2 1380.9 450.2 1381.4 441.5 1381.9 429.3 1382.4 434.8 1382.9 441.5 1383.4 424.7 1383.9 420.6 1384.4 420.6 1384.9 413.9 1385.4 413.9 1385.9 413.9 1386.4 413.9 1386.9 413.9 1387.4 417.1 1387.9 417.1 1388.4 417.1 1388.9 420.6 1389.4 424.7 1389.9 441.5 1390.4 450.2 1390.9 450.2 1391.4 441.5 1391.9 462.4 1392.4 462.4 1392.9 462.4 1393.4 462.4 1393.9 450.2 1394.4 450.2 1395 462.4 1395.5 434.8 1396 441.5 1396.5 441.5 1397 424.7 1397.5 429.3 1398 429.3 1398.5 424.7 1399 424.7 1399.5 424.7 1400 424.7 1400.5 429.3 1401 424.7 1401.5 434.8 1402 450.2 1402.5 450.2 1403 434.8 1403.5 462.4 1404 462.4 1404.5 462.4 1405 483.3 1407 462.4 1407.5 462.4 1408 450.2 1408.5 450.2 1409 434.8 1409.5 441.5 1410 441.5 1410.5 434.8 1411 429.3 1411.6 429.3 1412.1 429.3 1412.6 429.3 1413.1 429.3 1413.6 434.8 1414.1 434.8 1414.6 434.8 1415.1 450.2 1415.6 441.5 1416.1 450.2 1416.6 462.4 1417.1 462.4 1417.6 462.4 1418.1 462.4 1418.6 462.4 1419.1 462.4 1419.6 462.4 1420.1 462.4 1420.6 462.4 1421.1 462.4 1421.6 441.5 1422.1 450.2 1422.6 450.2 1423.1 434.8 1423.6 434.8 1424.1 434.8 1424.6 434.8 1425.1 434.8 1425.6 434.8 1426.1 434.8 1426.6 441.5 1427.1 450.2 1427.7 441.5 1428.2 450.2 1428.7 462.4 1429.2 462.4 1429.7 483.3 1432.2 483.3 1432.7 462.4 1433.7 462.4 1434.2 441.5 1434.7 441.5 1435.2 441.5 1435.7 450.2 1436.2 434.8 1436.7 441.5 1437.2 434.8 1437.7 434.8 1438.2 434.8 1438.7 434.8 1439.2 441.5 1439.7 434.8 1440.2 441.5 1440.7 462.4 1441.2 441.5 1441.7 462.4 1442.2 462.4 1442.7 483.3 1443.2 462.4 1445.3 462.4 1445.8 462.4 1446.3 462.4 1446.8 462.4 1447.3 462.4 1447.8 450.2 1448.3 441.5 1448.8 441.5 1449.3 434.8 1449.8 441.5 1450.3 434.8 1450.8 434.8 1451.3 441.5 1451.8 441.5 1452.3 441.5 1452.8 441.5 1453.3 462.4 1453.8 462.4 1454.3 483.3 1455.3 462.4 1456.8 483.3 1458.8 462.4 1459.3 462.4 1459.9 462.4 1460.4 450.2 1460.9 441.5 1461.4 441.5 1461.9 441.5 1462.4 441.5 1462.9 441.5 1463.4 441.5 1463.9 441.5 1464.4 441.5 1464.9 441.5 1465.4 450.2 1465.9 450.2 1466.4 462.4 1466.9 462.4 1467.4 483.3 1469.9 483.3 1470.9 462.4 1471.4 462.4 1472.4 450.2 1472.9 462.4 1473.4 462.4 1473.9 450.2 1474.4 450.2 1474.9 441.5 1475.4 441.5 1475.9 441.5 1476.5 441.5 1477 441.5 1477.5 450.2 1478 441.5 1478.5 450.2 1479 450.2 1479.5 462.4 1480 462.4 1480.5 462.4 1481 483.3 1483.5 483.3 1485 462.4 1486 462.4 1486.5 450.2 1487 450.2 1487.5 450.2 1488 450.2 1488.5 450.2 1489 450.2 1489.5 450.2 1490 450.2 1490.5 450.2 1491 450.2 1491.5 450.2 1492 462.4 1492.6 462.4 1493.1 462.4 1493.6 483.3 1496.1 483.3 1496.6 462.4 1497.6 462.4 1498.1 462.4 1498.6 462.4 1499.1 462.4 1499.6 450.2 1500.1 450.2 1500.6 450.2 1501.1 450.2 1501.6 450.2 1502.1 450.2 1502.6 450.2 1503.1 450.2 1503.6 450.2 1504.1 462.4 1504.6 462.4 1505.1 462.4 1505.6 462.4 1506.1 483.3 1508.7 483.3 1511.2 462.4 1511.7 462.4 1512.2 462.4 1512.7 450.2 1513.2 450.2 1513.7 450.2 1514.2 450.2 1514.7 450.2 1515.2 450.2 1515.7 450.2 1516.2 450.2 1516.7 462.4 1517.2 462.4 1517.7 483.3 1520.2 483.3 1522.7 483.3 1524.2 462.4 1524.8 462.4 1525.3 462.4 1525.8 462.4 1526.3 450.2 1526.8 450.2 1527.3 450.2 1527.8 450.2 1528.3 450.2 1528.8 462.4 1529.3 462.4 1529.8 483.3 1530.3 462.4 1532.3 483.3 1534.8 483.3 1536.3 462.4 1537.3 462.4 1537.8 450.2 1538.3 462.4 1538.8 450.2 1539.3 450.2 1539.8 450.2 1540.3 450.2 1540.8 450.2 1541.4 450.2 1541.9 462.4 1542.4 462.4 1542.9 462.4 1543.4 483.3 1545.9 483.3 1548.4 483.3 1549.4 462.4 1549.9 462.4 1550.4 462.4 1550.9 450.2 1551.4 450.2 1551.9 450.2 1552.4 450.2 1552.9 450.2 1553.4 450.2 1553.9 450.2 1554.4 450.2 1554.9 462.4 1555.4 483.3 1555.9 462.4 1558 483.3 1560.5 483.3 1562 462.4 1562.5 462.4 1563 462.4 1563.5 462.4 1564 462.4 1564.5 450.2 1565 450.2 1565.5 462.4 1566 450.2 1566.5 462.4 1567 462.4 1567.5 462.4 1568 462.4 1568.5 483.3 1571 483.3 1573.6 483.3 1575.1 462.4 1576.1 462.4 1576.6 462.4 1577.1 462.4 1577.6 462.4 1578.1 462.4 1578.6 462.4 1579.1 462.4 1579.6 462.4 1580.1 462.4 1580.6 462.4 1581.1 462.4 1581.6 462.4 1582.1 483.3 1584.6 483.3 1587.1 483.3 1587.6 462.4 1588.6 462.4 1589.1 462.4 1589.7 462.4 1590.2 462.4 1590.7 462.4 1591.2 462.4 1591.7 462.4 1592.2 462.4 1592.7 462.4 1593.2 462.4 1593.7 462.4 1594.2 483.3 1596.7 483.3 1599.2 483.3 1600.2 462.4 1600.7 462.4 1601.2 462.4 1601.7 462.4 1602.2 462.4 1602.7 450.2 1603.2 450.2 1603.7 450.2 1604.2 462.4 1604.7 462.4 1605.2 462.4 1605.7 462.4 1606.3 462.4 1606.8 462.4 1607.3 483.3 1609.8 483.3 1612.3 483.3 1613.3 462.4 1613.8 462.4 1614.3 450.2 1614.8 450.2 1615.3 462.4 1615.8 450.2 1616.3 450.2 1616.8 450.2 1617.3 450.2 1617.8 450.2 1618.3 462.4 1618.8 462.4 1619.3 462.4 1619.8 462.4 1620.3 483.3 1622.9 483.3 1625.4 483.3 1625.9 462.4 1626.4 450.2 1626.9 450.2 1627.4 441.5 1627.9 441.5 1628.4 434.8 1628.9 434.8 1629.4 434.8 1629.9 434.8 1630.4 434.8 1630.9 441.5 1631.4 441.5 1631.9 434.8 1632.4 450.2 1632.9 450.2 1633.4 462.4 1633.9 462.4 1634.4 462.4 1634.9 462.4 1635.4 462.4 1635.9 462.4 1636.4 462.4 1636.9 462.4 1637.4 450.2 1637.9 441.5 1638.5 441.5 1639 429.3 1639.5 424.7 1640 429.3 1640.5 424.7 1641 417.1 1641.5 420.6 1642 417.1 1642.5 413.9 1643 417.1 1643.5 417.1 1644 420.6 1644.5 429.3 1645 417.1 1645.5 441.5 1646 441.5 1646.5 441.5 1647 450.2 1647.5 450.2 1648 450.2 1648.5 450.2 1649 450.2 1649.5 441.5 1650 441.5 1650.5 429.3 1651 420.6 1651.5 417.1 1652 399.7 1652.5 406 1653 399.7 1653.5 391.5 1654 387.5 1654.6 384 1655.1 382.9 1655.6 380.8 1656.1 381.8 1656.6 377.9 1657.1 388.8 1657.6 378.8 1658.1 384 1658.6 378.8 1659.1 394.6 1659.6 386.3 1660.1 382.9 1660.6 386.3 1661.1 382.9 1661.6 377.9 1662.1 373.7 1662.6 362.1 1663.1 354.7 1663.6 356 1664.1 348.3 1664.6 344.5 1665.1 333.2 1665.6 329 1666.1 326 1666.6 323.9 1667.1 321.7 1667.6 319.3 1668.1 317.2 1668.6 315 1669.1 312.9 1669.6 310.8 1670.1 309.2 1670.6 308.9 1671.2 308.7 1671.7 308.4 1672.2 308.2 1672.7 307.9 1673.2 307.7 1673.7 307.4 1674.2 307.4 1674.7 307.9 1675.2 308.4 1675.7 308.9 1676.2 309.4 1676.7 309.9 1677.2 310.4 1677.7 310.9 1678.2 312.9 1678.7 317.3 1679.2 321.7 1679.7 326 1680.2 330.4 1680.7 334.7 1681.2 339.1 1681.7 345.7 1682.2 349.3 1682.7 370.6 1683.2 361 1683.7 377 1684.2 384 1684.7 429.3 1685.2 417.1 1685.7 450.2 1686.2 462.4 1686.7 462.4 1687.3 462.4 1687.8 483.3 1688.8 462.4 1689.8 420.6 1690.3 441.5 1690.8 424.7 1691.3 411 1691.8 420.6 1692.3 413.9 1692.8 413.9 1693.3 413.9 1693.8 417.1 1694.3 417.1 1694.8 424.7 1695.3 420.6 1695.8 441.5 1696.3 450.2 1696.8 450.2 1697.3 483.3 1701.3 483.3 1702.3 462.4 1703.9 483.3 1704.4 462.4 1704.9 450.2 1705.4 450.2 1705.9 450.2 1706.4 450.2 1706.9 450.2 1707.4 450.2 1707.9 483.3 1708.4 462.4 1708.9 462.4 1716.4 483.3 1717.4 462.4 1717.9 462.4 1718.4 462.4 1718.9 462.4 1719.4 462.4 1720 462.4 1720.5 462.4 1721 462.4 1721.5 483.3 1728 483.3 1730 462.4 1730.5 483.3 1731.5 462.4 1732 462.4 1732.5 462.4 1733 483.3 1741.1 483.3 1743.6 483.3 1746.1 483.3 1755.2 483.3 1757.7 483.3 1768.3 483.3 1770.8 483.3 1773.3 483.3 1779.8 483.3 1782.3 483.3 1784.9 483.3 1795.9 483.3 1806.5 483.3 1821.6 483.3 1832.1 483.3 2000.2 483.3 2023.8 483.3 2026.3 483.3 2036.4 483.3 2038.9 483.3 2039.4 462.4 2039.9 462.4 2040.4 462.4 2041.4 483.3 2047 483.3 2047.5 462.4 2048 450.2 2048.5 441.5 2049 450.2 2049.5 429.3 2050 429.3 2050.5 417.1 2051 417.1 2051.5 413.9 2052 413.9 2052.5 411 2053 408.4 2053.5 406 2054 403.8 2054.5 403.8 2055 401.7 2055.5 401.7 2056 399.7 2056.5 399.7 2057 399.7 2057.5 399.7 2058 399.7 2058.5 399.7 2059 401.7 2059.5 401.7 2060 401.7 2060.6 403.8 2061.1 403.8 2061.6 403.8 2062.1 406 2062.6 411 2063.1 413.9 2063.6 417.1 2064.1 424.7 2064.6 429.3 2065.1 434.8 2065.6 450.2 2066.1 441.5 2066.6 483.3 2067.1 462.4 2073.6 483.3 2076.1 483.3 2078.7 483.3 2087.2 483.3 2089.7 483.3 2092.2 483.3 2100.8 483.3 2103.3 483.3 2113.9 483.3" fill="none" stroke="none" marker-start="url(#m)" marker-mid="url(#m)" marker-end="url(#m)"/>
<path d="M159.8 569.6 160.3 569.5 160.8 569.3 161.3 569.1 161.9 569 162.4 568.8 162.9 568.6 163.4 568.5 163.9 568.3 164.4 568.1 164.9 567.9 165.4 567.8 165.9 567.6 166.4 567.4 166.9 567.3 167.4 567.1 167.9 566.9 168.4 566.8 168.9 566.6 169.4 566.4 169.9 566.3 170.4 566.1 170.9 565.9 171.4 565.7 171.9 565.6 172.4 565.4 172.9 565.2 173.4 565 173.9 564.8 174.4 564.6 174.9 564.4 175.4 564.2 175.9 564 176.4 563.7 176.9 563.5 177.4 563.3 178 563.1 178.5 562.9 179 562.7 179.5 562.5 180 562.3 180.5 562.1 181 561.9 181.5 561.7 182 561.5 182.5 561.3 183 561.1 183.5 560.9 184 560.7 184.5 560.5 185 560.3 185.5 560.1 186 559.9 186.5 559.7 187 559.5 187.5 559.3 188 559.1 188.5 558.8 189 558.6 189.5 558.4 190 558.2 190.5 558 191 557.8 191.5 557.6 192 557.4 192.5 557.2 193 557 193.5 556.9 194.1 556.7 194.6 556.6 195.1 556.4 195.6 556.3 196.1 556.1 196.6 556 197.1 555.8 197.6 555.7 198.1 555.5 198.6 555.4 199.1 555.2 199.6 555.1 200.1 554.9 200.6 554.8 201.1 554.6 201.6 554.5 202.1 554.3 202.6 554.2 203.1 554 203.6 554 204.1 554 204.6 554 205.1 554 205.6 554 206.1 554 206.6 554 207.1 554 207.6 554 208.1 554 208.6 554 209.1 554 209.6 554 210.1 554 210.7 554 211.2 554 211.7 554 212.2 554 212.7 554 213.2 554 213.7 554 214.2 554 214.7 554 215.2 554 215.7 554 216.2 554 216.7 554 217.2 554 217.7 554 218.2 554 218.7 554 219.2 554 219.7 554 220.2 554 220.7 554 221.2 554 221.7 554 222.2 554 222.7 554 223.2 554 223.7 554 224.2 554 224.7 554 225.2 554 225.7 554 226.2 554 226.8 554 227.3 554 227.8 554 228.3 554 228.8 554 229.3 554 229.8 554 230.3 554.2 230.8 554.4 231.3 554.7 231.8 554.9 232.3 555.2 232.8 555.4 233.3 555.6 233.8 555.9 234.3 556.1 234.8 556.4 235.3 556.6 235.8 556.8 236.3 557.1 236.8 557.3 237.3 557.6 237.8 557.8 238.3 558.1 238.8 558.3 239.3 558.5 239.8 558.8 240.3 559 240.8 559.3 241.3 560.5 241.8 561.7 242.3 562.9 242.9 564.1 243.4 565.3 243.9 566.5 244.4 567.6 244.9 568.8 245.4 570 245.9 571.2 246.4 572.4 246.9 573.6 247.4 575 247.9 576.5 248.4 578 248.9 579.5 249.4 581 249.9 582.5 250.4 584 250.9 585.5 251.4 587 251.9 588.5 252.4 590 252.9 591.5 253.4 593 253.9 594.5 254.4 596 254.9 597.5 255.4 599 255.9 600.2 256.4 601.4 256.9 602.7 257.4 603.9 257.9 605.1 258.4 606.3 259 607.5 259.5 608.7 260 609.9 260.5 611.2 261 612.4 261.5 613.6 262 614.8 262.5 616 263 617.2 263.5 618.4 264 619.7 264.5 620.9 265 622.1 265.5 623.3 266 624.4 266.5 625.2 267 626 267.5 626.8 268 627.6 268.5 628.4 269 629.2 269.5 630 270 630.8 270.5 631.6 271 632.4 271.5 633.2 272 634 272.5 634.8 273 635.6 273.5 636.4 274 637.2 274.5 638 275 638.8 275.6 639.6 276.1 640.4 276.6 641 277.1 641.4 277.6 641.8 278.1 642.3 278.6 642.8 279.1 643.4 279.6 643.9 280.1 644.5 280.6 645 281.1 645.2 281.6 645.6 282.1 645.8 282.6 646 283.1 646.6 283.6 646.7 284.1 647.1 284.6 647.5 285.1 647.9 285.6 648.3 286.1 649.2 286.6 649.8 287.1 650.6 287.6 651.3 288.1 651.9 288.6 652.5 289.1 652.8 289.6 653.1 290.1 652.6 290.6 652.3 291.1 652.2 291.7 652.5 292.2 652.5 292.7 652.9 293.2 653 293.7 653.3 294.2 653.6 294.7 653.9 295.2 654.5 295.7 655.9 296.2 658 296.7 657.3 297.2 659.5 297.7 660.3 298.2 660.7 298.7 660.4 299.2 661 299.7 659.2 300.2 659.4 300.7 658 301.2 658.9 301.7 657.9 302.2 657.8 302.7 657.7 303.2 658 303.7 658.3 304.2 659.7 304.7 661.8 305.2 663.3 305.7 661.9 306.2 665.6 306.7 666.9 307.2 666.4 307.8 667.7 308.3 668.1 308.8 667 309.3 664.5 309.8 667.1 310.3 663.7 310.8 662.8 311.3 662.5 311.8 663.1 312.3 662.4 312.8 662.7 313.3 663 313.8 664.3 314.3 663.9 314.8 668.1 315.3 671.1 315.8 670.5 316.3 676.7 316.8 679 317.3 680.8 317.8 681 318.3 680.2 318.8 681.3 319.3 676.4 319.8 676.7 320.3 669.6 320.8 669.2 321.3 669.1 321.8 669.1 322.3 669.5 322.8 669.7 323.3 670.7 323.9 671.7 324.4 672 324.9 673.7 325.4 675.8 325.9 679.4 326.4 684.5 326.9 687.2 327.4 689.7 327.9 693.2 328.4 692.8 328.9 691.9 329.4 694.3 329.9 686.5 330.4 680.8 330.9 682.1 331.4 681.4 331.9 679.7 332.4 677.8 332.9 677.7 333.4 678.3 333.9 679.6 334.4 679 334.9 687 335.4 683.7 335.9 685.2 336.4 689.7 336.9 704.5 337.4 702.6 337.9 709.3 338.4 709.4 338.9 708.6 339.4 706.7 339.9 698.2 340.5 696.2 341 696.4 341.5 693.3 342 685.9 342.5 685.6 343 685.1 343.5 685.3 344 685.8 344.5 686.2 345 686.2 345.5 686.8 346 693.9 346.5 694.5 347 702.4 347.5 708.1 348 712.7 348.5 713.8 349 716.4 349.5 716.9 350 715.8 350.5 707.4 351 715 351.5 709.6 352 693.4 352.5 694.7 353 693.2 353.5 694.2 354 690.2 354.5 690.4 355 690.5 355.5 692.3 356 692.3 356.6 694.1 357.1 697.2 357.6 701 358.1 708.6 358.6 708 359.1 722.7 359.6 724.2 360.1 723.8 360.6 723.8 361.1 715.3 361.6 716.1 362.1 711.8 362.6 707.6 363.1 706.9 363.6 704.5 364.1 698.6 364.6 692.9 365.1 694.7 365.6 693.2 366.1 693.2 366.6 693.5 367.1 693.6 367.6 702 368.1 702.8 368.6 702.4 369.1 703.4 369.6 712.6 370.1 715.5 370.6 726.1 371.1 726 371.6 723.2 372.1 726 372.7 725.5 373.2 722.3 373.7 705.4 374.2 706.7 374.7 704.9 375.2 698.5 375.7 700.5 376.2 699 376.7 696 377.2 696.1 377.7 696.2 378.2 696.6 378.7 703.2 379.2 698.2 379.7 713.3 380.2 717.6 380.7 711.9 381.2 729.4 381.7 723.6 382.2 735.1 382.7 735.2 383.2 732 383.7 735.1 384.2 731.3 384.7 712.8 385.2 707.1 385.7 721.2 386.2 713.2 386.7 704.1 387.2 700.1 387.7 700 388.2 700.3 388.8 700.8 389.3 704.7 389.8 701.4 390.3 712.4 390.8 705.6 391.3 710.7 391.8 720.8 392.3 740 392.8 743.1 393.3 748.6 393.8 748 394.3 746.8 394.8 741 395.3 745.8 395.8 735.4 396.3 724.8 396.8 733.9 397.3 721.9 397.8 707.3 398.3 707.4 398.8 709 399.3 705.5 399.8 704.8 400.3 705 400.8 705.2 401.3 710.3 401.8 707.9 402.3 711.2 402.8 712 403.3 723.7 403.8 725.1 404.3 736 404.8 735.8 405.4 745.1 405.9 744.4 406.4 739.2 406.9 744.3 407.4 727.9 407.9 728.9 408.4 734 408.9 731.7 409.4 716.1 409.9 718.9 410.4 715.1 410.9 716.4 411.4 715 411.9 715.9 412.4 715.9 412.9 717.8 413.4 725.8 413.9 729.7 414.4 730.2 414.9 728.8 415.4 733.6 415.9 740.6 416.4 741 416.9 748.6 417.4 747.9 417.9 750.3 418.4 750.4 418.9 739.2 419.4 738.2 419.9 727.9 420.4 733.9 420.9 723.7 421.5 730.9 422 725.2 422.5 724 423 722.9 423.5 724.1 424 723.6 424.5 725.3 425 724.9 425.5 736.3 426 728.9 426.5 747.5 427 742.1 427.5 756.3 428 757.8 428.5 755.7 429 757.3 429.5 758.5 430 749.1 430.5 750.8 431 742.4 431.5 746.5 432 731.3 432.5 732.8 433 726.4 433.5 729.5 434 725.5 434.5 724.2 435 724.1 435.5 724.7 436 723.6 436.5 723.5 437 728.5 437.6 730.6 438.1 735.8 438.6 742.1 439.1 740.8 439.6 743.3 440.1 744 440.6 742.8 441.1 744.2 441.6 741.7 442.1 742 442.6 738.6 443.1 730.7 443.6 727.9 444.1 729.2 444.6 721.9 445.1 719.2 445.6 719.2 446.1 719.3 446.6 717.8 447.1 717.5 447.6 717.2 448.1 717 448.6 716.7 449.1 717.4 449.6 723.2 450.1 720.5 450.6 722.8 451.1 721.5 451.6 722.2 452.1 725.4 452.6 724.7 453.1 723.4 453.7 723 454.2 720.5 454.7 718.9 455.2 716.2 455.7 717.1 456.2 714.2 456.7 711 457.2 710.2 457.7 710 458.2 709.2 458.7 708.9 459.2 708.5 459.7 708.3 460.2 707.7 460.7 709 461.2 709.6 461.7 711 462.2 708.3 462.7 711.4 463.2 711.2 463.7 712.8 464.2 712.2 464.7 712.3 465.2 712.2 465.7 711.1 466.2 707.5 466.7 710.2 467.2 706.3 467.7 703.5 468.2 705.5 468.7 702.5 469.2 699.8 469.7 698.5 470.3 697.5 470.8 697.1 471.3 696.4 471.8 695.5 472.3 696 472.8 694.4 473.3 698 473.8 694.4 474.3 697.1 474.8 701 475.3 701.4 475.8 703.5 476.3 701.1 476.8 702.6 477.3 701.8 477.8 698.1 478.3 698.7 478.8 691.9 479.3 693.2 479.8 691.5 480.3 690.5 480.8 687.4 481.3 683.2 481.8 681.2 482.3 680.2 482.8 679.1 483.3 678.1 483.8 677.3 484.3 677.3 484.8 678 485.3 679.7 485.8 677.6 486.4 685.8 486.9 688.4 487.4 688.4 487.9 685 488.4 685.1 488.9 689.2 489.4 689 489.9 687.3 490.4 686.8 490.9 674.1 491.4 669.7 491.9 665.2 492.4 664.7 492.9 663.8 493.4 663.3 493.9 656.6 494.4 654.9 494.9 653 495.4 651.5 495.9 650.2 496.4 649.9 496.9 648.4 497.4 649.5 497.9 650.5 498.4 661.6 498.9 651.7 499.4 655.6 499.9 659.8 500.4 665.5 500.9 663.8 501.4 664.8 501.9 658 502.5 659.2 503 646.2 503.5 652.4 504 646 504.5 635.3 505 642 505.5 638.6 506 634.4 506.5 631.7 507 629.7 507.5 629.9 508 628.6 508.5 626.9 509 623.6 509.5 621.1 510 630.9 510.5 633.7 511 634.8 511.5 638.1 512 625.7 512.5 625.9 513 625.5 513.5 622.3 514 612.9 514.5 606.9 515 596.8 515.5 588.3 516 582.3 516.5 585.4 517 579.3 517.5 572.1 518 570 518.6 568.3 519.1 566.9 519.6 565.5 520.1 564.2 520.6 563.9 521.1 563.5 521.6 563.1 522.1 562.8 522.6 562.4 523.1 562.1 523.6 561.7 524.1 561.4 524.6 561 525.1 560.6 525.6 560.5 526.1 561 526.6 561.5 527.1 562.1 527.6 562.6 528.1 563.1 528.6 563.7 529.1 564.2 529.6 564.8 530.1 565.3 530.6 565.8 531.1 566.8 531.6 569.1 532.1 571.4 532.6 573.9 533.1 576.6 533.6 578.5 534.1 583.1 534.6 593.3 535.2 591 535.7 595.2 536.2 609.6 536.7 612.7 537.2 619.5 537.7 624.3 538.2 628.9 538.7 629.2 539.2 638 539.7 627.7 540.2 639.6 540.7 632.2 541.2 638.7 541.7 625.1 542.2 625.8 542.7 625.8 543.2 625.6 543.7 623.9 544.2 624.4 544.7 626.3 545.2 625.4 545.7 626.2 546.2 639.5 546.7 636.9 547.2 657.6 547.7 659.4 548.2 669.4 548.7 677.2 549.2 679.7 549.7 685.8 550.2 696.5 550.7 701.2 551.3 701.5 551.8 680.3 552.3 691.7 552.8 669.7 553.3 660.1 553.8 665.3 554.3 655.5 554.8 669.2 555.3 651.8 555.8 652.8 556.3 654.2 556.8 655.6 557.3 657.6 557.8 658.2 558.3 657.8 558.8 659.7 559.3 688.4 559.8 683.6 560.3 681.2 560.8 696.4 561.3 715.7 561.8 704.6 562.3 725.2 562.8 725.6 563.3 725.4 563.8 724.6 564.3 713.9 564.8 700.1 565.3 692.1 565.8 710.2 566.3 685.8 566.8 673.4 567.4 682.6 567.9 668.8 568.4 669.3 568.9 669.9 569.4 670.7 569.9 671.1 570.4 672.3 570.9 676.5 571.4 678.3 571.9 682 572.4 697.8 572.9 702.2 573.4 755.5 573.9 748.6 574.4 742 574.9 757.9 575.4 770.4 575.9 770.5 576.4 770.7 576.9 757.3 577.4 757.2 577.9 723.5 578.4 701.9 578.9 717.2 579.4 702.6 579.9 693.3 580.4 689.1 580.9 690.1 581.4 691.1 581.9 692.3 582.4 694.7 582.9 703.8 583.5 708.1 584 698.9 584.5 722.9 585 718.6 585.5 721 586 731.2 586.5 743.3 587 777.9 587.5 779.8 588 780.3 588.5 781.2 589 773.5 589.5 773.9 590 737.8 590.5 733.4 591 721.5 591.5 738.3 592 713.6 592.5 711.8 593 714.9 593.5 712.6 594 712.4 594.5 712.5 595 712.9 595.5 714.2 596 716.8 596.5 732.6 597 737.6 597.5 741.6 598 749.7 598.5 762.6 599 800.4 599.5 791.3 600.1 803.3 600.6 803.8 601.1 804.6 601.6 801.8 602.1 793.5 602.6 777 603.1 738.4 603.6 735.8 604.1 725.2 604.6 729.8 605.1 719.3 605.6 722.1 606.1 717 606.6 717.3 607.1 717.9 607.6 725.2 608.1 724.3 608.6 732.7 609.1 741.4 609.6 745.9 610.1 776.4 610.6 758.3 611.1 788.7 611.6 780.5 612.1 795.1 612.6 791 613.1 795.9 613.6 797.7 614.1 790 614.6 782.1 615.1 767.4 615.6 772.6 616.2 734.6 616.7 726.5 617.2 731.1 617.7 733.4 618.2 719.9 618.7 719.9 619.2 720 619.7 720.2 620.2 720.3 620.7 729.8 621.2 737.4 621.7 737.6 622.2 747.7 622.7 749.2 623.2 766.9 623.7 798.7 624.2 782.9 624.7 801.4 625.2 801.4 625.7 801.9 626.2 800.5 626.7 774.9 627.2 768.7 627.7 764.1 628.2 771.8 628.7 751.1 629.2 751.6 629.7 732.6 630.2 723.3 630.7 722.7 631.2 724 631.7 724.3 632.3 726.4 632.8 727.3 633.3 742.7 633.8 735.6 634.3 740.9 634.8 768.7 635.3 758.9 635.8 771.4 636.3 783.8 636.8 806.1 637.3 810.3 637.8 816.1 638.3 803.7 638.8 816.9 639.3 779 639.8 762.6 640.3 769.3 640.8 743.2 641.3 745.5 641.8 741.1 642.3 736.5 642.8 729.2 643.3 729.7 643.8 729.7 644.3 730.5 644.8 730.8 645.3 736.8 645.8 732.9 646.3 746.5 646.8 745.4 647.3 744.7 647.8 779.4 648.4 773.5 648.9 779.6 649.4 790.7 649.9 798.9 650.4 797.7 650.9 799.1 651.4 788.2 651.9 794.5 652.4 772.5 652.9 778.5 653.4 765.7 653.9 755.4 654.4 742.9 654.9 738.3 655.4 736.3 655.9 738.7 656.4 736.4 656.9 736.8 657.4 736.9 657.9 747.8 658.4 746.1 658.9 764.6 659.4 755.7 659.9 763.3 660.4 797.6 660.9 797.1 661.4 814.9 661.9 819 662.4 819.8 662.9 819.6 663.4 813.8 663.9 792.3 664.4 779.4 665 770 665.5 789.6 666 758.9 666.5 775.2 667 757.9 667.5 747.2 668 744.5 668.5 745.1 669 745.4 669.5 745.6 670 746 670.5 756.5 671 758.6 671.5 778.4 672 758.3 672.5 764.8 673 808.6 673.5 797.2 674 810.6 674.5 822.4 675 825.1 675.5 825.7 676 824.2 676.5 816.2 677 808.6 677.5 812.7 678 792.7 678.5 776.5 679 774.5 679.5 761.7 680 750.9 680.5 752.1 681.1 750.5 681.6 750.7 682.1 753.8 682.6 751.7 683.1 755.3 683.6 765.6 684.1 772.2 684.6 784.7 685.1 795.1 685.6 810.8 686.1 789.8 686.6 813.5 687.1 819 687.6 818.4 688.1 811.8 688.6 819.3 689.1 806.5 689.6 803.8 690.1 775.8 690.6 793.6 691.1 786.7 691.6 756.2 692.1 762.6 692.6 755.3 693.1 756.4 693.6 753.6 694.1 754.5 694.6 753.8 695.1 759.8 695.6 773.3 696.1 760.1 696.6 777.6 697.2 779.2 697.7 800.6 698.2 809.9 698.7 822.7 699.2 832.6 699.7 824.7 700.2 829.2 700.7 822.5 701.2 818 701.7 830 702.2 792.6 702.7 815 703.2 782.7 703.7 766.6 704.2 782.1 704.7 761.5 705.2 768.2 705.7 758.4 706.2 758.6 706.7 758.7 707.2 759 707.7 761.9 708.2 763 708.7 785.6 709.2 767.6 709.7 791.9 710.2 806.5 710.7 818.8 711.2 834.3 711.7 838.4 712.2 828.7 712.7 833 713.2 840.7 713.8 813.8 714.3 834.8 714.8 823 715.3 799.3 715.8 782.4 716.3 777 716.8 780.5 717.3 779.6 717.8 762.7 718.3 761.9 718.8 762.2 719.3 764 719.8 762.5 720.3 764.3 720.8 775.7 721.3 783 721.8 777.5 722.3 816.7 722.8 802.8 723.3 825.4 723.8 821.2 724.3 833.8 724.8 832.4 725.3 838.3 725.8 842.8 726.3 833.3 726.8 831.3 727.3 802.4 727.8 803.6 728.3 789.1 728.8 785.8 729.3 778 729.9 766.2 730.4 766.5 730.9 766.5 731.4 767.1 731.9 767.2 732.4 767.3 732.9 777.2 733.4 769.4 733.9 806.8 734.4 803.2 734.9 823.2 735.4 800.3 735.9 833.6 736.4 856.1 736.9 839.1 737.4 852.9 737.9 856.1 738.4 850.9 738.9 830 739.4 814.1 739.9 811.3 740.4 792 740.9 799.7 741.4 804.8 741.9 785.7 742.4 779.9 742.9 772.6 743.4 773 743.9 773.6 744.4 773.4 744.9 773.5 745.4 779.2 746 785.5 746.5 797.4 747 791.5 747.5 827.7 748 829.9 748.5 821.8 749 848 749.5 842.6 750 846.1 750.5 853.5 751 854.8 751.5 845 752 832.9 752.5 809.9 753 802.3 753.5 794 754 784.4 754.5 781.9 755 789.5 755.5 781.5 756 782.2 756.5 782.5 757 782.7 757.5 783.6 758 785.9 758.5 799 759 793.4 759.5 816.2 760 840.5 760.5 850.5 761 858.3 761.5 855.5 762.1 860.6 762.6 868.7 763.1 867.7 763.6 868.7 764.1 837.2 764.6 827.8 765.1 838.2 765.6 837.1 766.1 818.5 766.6 813.4 767.1 789.4 767.6 788.4 768.1 789.5 768.6 789.2 769.1 788.9 769.6 789 770.1 789.4 770.6 797.8 771.1 800.5 771.6 796.4 772.1 800.8 772.6 842.1 773.1 825.9 773.6 837.2 774.1 838.1 774.6 848.6 775.1 851.8 775.6 852.9 776.1 842.3 776.6 842.3 777.1 832 777.6 809 778.1 823.6 778.7 808.1 779.2 807.8 779.7 798.5 780.2 795 780.7 790 781.2 790.1 781.7 792 782.2 793.1 782.7 793.5 783.2 791.9 783.7 801.3 784.2 806.6 784.7 806.9 785.2 832.5 785.7 848.3 786.2 853.5 786.7 863 787.2 854.8 787.7 863 788.2 856.1 788.7 858.3 789.2 855.5 789.7 849.8 790.2 805.3 790.7 830.9 791.2 796.1 791.7 790.8 792.2 797.7 792.7 795.4 793.2 790.4 793.7 788 794.2 787.8 794.8 787.9 795.3 791.4 795.8 798.4 796.3 798.8 796.8 812.2 797.3 842.9 797.8 841.8 798.3 847.6 798.8 869.8 799.3 873.2 799.8 875.7 800.3 866.7 800.8 863.9 801.3 872 801.8 833.5 802.3 821.2 802.8 847.3 803.3 819.5 803.8 791.6 804.3 801 804.8 788.3 805.3 786.4 805.8 786.3 806.3 787 806.8 787.3 807.3 786.2 807.8 801.9 808.3 816.5 808.8 829 809.3 818.2 809.8 811.5 810.3 827.4 810.9 848 811.4 869.8 811.9 870.9 812.4 869.8 812.9 869.8 813.4 846.6 813.9 846.6 814.4 849.2 814.9 827 815.4 815.6 815.9 803 816.4 819.1 816.9 801.7 817.4 786 817.9 790.9 818.4 785.8 818.9 785.8 819.4 786.2 819.9 786.9 820.4 795.3 820.9 788.4 821.4 800.2 821.9 802.3 822.4 808.8 822.9 820.7 823.4 827.6 823.9 823.8 824.4 830.1 824.9 839.7 825.4 838.4 825.9 824.8 826.4 836 827 811.4 827.5 817.7 828 801.5 828.5 790.6 829 793.4 829.5 789 830 786.1 830.5 785.8 831 786.1 831.5 785.9 832 788.9 832.5 786.4 833 791.6 833.5 789.8 834 810.1 834.5 807.9 835 802.6 835.5 818.9 836 814.2 836.5 831.3 837 829.6 837.5 829.5 838 829.3 838.5 817.1 839 810.5 839.5 805.3 840 796.9 840.5 794.8 841 804.1 841.5 791.6 842 786.6 842.5 784.6 843 785.8 843.6 784.1 844.1 783.8 844.6 784.1 845.1 786.2 845.6 787.4 846.1 789 846.6 802.9 847.1 803.7 847.6 801.6 848.1 812.4 848.6 803.5 849.1 807.7 849.6 816.5 850.1 815.8 850.6 811.4 851.1 814.1 851.6 808.1 852.1 790.9 852.6 798.6 853.1 782.8 853.6 780 854.1 778.5 854.6 776.5 855.1 774.7 855.6 773.9 856.1 773.2 856.6 772.4 857.1 775.8 857.6 775.8 858.1 776 858.6 782.3 859.1 784 859.7 782.2 860.2 795.2 860.7 787.7 861.2 799 861.7 800.8 862.2 800.3 862.7 798.9 863.2 789.6 863.7 795.4 864.2 786.9 864.7 791.4 865.2 769.2 865.7 769.7 866.2 773.6 866.7 769.2 867.2 761.3 867.7 760.7 868.2 759.4 868.7 758.9 869.2 758.5 869.7 758.6 870.2 756.9 870.7 754.3 871.2 760.2 871.7 750.2 872.2 751.6 872.7 756 873.2 745.9 873.7 749.7 874.2 745.6 874.7 744.4 875.2 743.4 875.8 742.5 876.3 741.1 876.8 738.4 877.3 735.3 877.8 730.1 878.3 729.2 878.8 728.9 879.3 728.8 879.8 724.3 880.3 722.7 880.8 720.2 881.3 718 881.8 715.9 882.3 714.1 882.8 712.7 883.3 707.6 883.8 704.9 884.3 701.3 884.8 698.8 885.3 692 885.8 688.4 886.3 685.8 886.8 680.3 887.3 677.9 887.8 673.3 888.3 671.7 888.8 667.8 889.3 662.6 889.8 657.8 890.3 652.5 890.8 651.1 891.3 647 891.9 643.2 892.4 639.4 892.9 638.6 893.4 637.9 893.9 637.5 894.4 637.2 894.9 636.8 895.4 636.4 895.9 636 896.4 635.6 896.9 635.3 897.4 634.9 897.9 634.5 898.4 634.1 898.9 633.7 899.4 633.4 899.9 633.3 900.4 634.7 900.9 636.1 901.4 637.4 901.9 638.8 902.4 640.2 902.9 641.6 903.4 642.9 903.9 644.3 904.4 645.7 904.9 647.1 905.4 648.5 905.9 649.9 906.4 651.2 906.9 653.4 907.4 654.5 907.9 658.7 908.5 662.1 909 672 909.5 681.5 910 679.6 910.5 688 911 701.1 911.5 706.5 912 710.7 912.5 716.1 913 718.4 913.5 733.8 914 739.9 914.5 742.5 915 748.2 915.5 753.2 916 738.6 916.5 748.6 917 740.3 917.5 740.3 918 740.5 918.5 741.7 919 743.6 919.5 744.5 920 749.3 920.5 748.6 921 752.1 921.5 766.8 922 761.4 922.5 772.1 923 778.3 923.5 789.9 924 800.8 924.6 805.6 925.1 806.7 925.6 804 926.1 804.5 926.6 806 927.1 792.8 927.6 791.5 928.1 798.3 928.6 796.6 929.1 782.1 929.6 772.5 930.1 771.6 930.6 774.4 931.1 773.3 931.6 773 932.1 773.7 932.6 781.6 933.1 787.8 933.6 793.6 934.1 789.2 934.6 802.9 935.1 793.4 935.6 825.6 936.1 819.5 936.6 833.2 937.1 837.4 937.6 837.2 938.1 836.8 938.6 839 939.1 833.1 939.6 829.7 940.1 825.7 940.7 822.1 941.2 803.9 941.7 798.6 942.2 788.5 942.7 792.7 943.2 791.7 943.7 789.8 944.2 790.5 944.7 794.6 945.2 793.2 945.7 794 946.2 808 946.7 805.3 947.2 839.9 947.7 812.8 948.2 859.8 948.7 863.9 949.2 861.4 949.7 864.8 950.2 867.7 950.7 868.7 951.2 869.8 951.7 857.5 952.2 853.5 952.7 836.1 953.2 816 953.7 813 954.2 818.4 954.7 807.6 955.2 801.7 955.7 800.4 956.2 801.6 956.8 801.3 957.3 801.7 957.8 807.5 958.3 804.7 958.8 824.4 959.3 814.1 959.8 815.6 960.3 835 960.8 856.8 961.3 851.6 961.8 877 962.3 883.1 962.8 883.1 963.3 881.5 963.8 884.8 964.3 856.1 964.8 852.3 965.3 857.5 965.8 838 966.3 830.6 966.8 839.1 967.3 814.3 967.8 815 968.3 812.6 968.8 813.2 969.3 813.7 969.8 814.1 970.3 815.6 970.8 817.9 971.3 817.9 971.8 826.9 972.3 856.8 972.8 846.6 973.4 851.2 973.9 852.9 974.4 878.4 974.9 879.9 975.4 884.8 975.9 884.8 976.4 878.4 976.9 862.2 977.4 851.3 977.9 843.5 978.4 848.6 978.9 838.8 979.4 847.6 979.9 840 980.4 823.2 980.9 822.2 981.4 823.5 981.9 823 982.4 823.2 982.9 826.6 983.4 824.3 983.9 826.2 984.4 846.1 984.9 831.9 985.4 851 985.9 870.9 986.4 869.8 986.9 875.7 987.4 881.5 987.9 883.1 988.4 878.4 988.9 881.5 989.5 868.7 990 883.1 990.5 878.4 991 852.9 991.5 859 992 838.4 992.5 848.6 993 836.7 993.5 836.9 994 837.5 994.5 836.9 995 838.1 995.5 840.8 996 842.8 996.5 840.4 997 843.3 997.5 849.4 998 859.8 998.5 888.6 999 904 999.5 921.7 1000 911.6 1000.5 928.4 1001 928.4 1001.5 911.6 1002 916.2 1002.5 904 1003 904 1003.5 877 1004 868.7 1004.5 859 1005 873.2 1005.6 864.8 1006.1 848.5 1006.6 849 1007.1 849.5 1007.6 850 1008.1 858.3 1008.6 854.8 1009.1 859.8 1009.6 883.1 1010.1 883.1 1010.6 900.8 1011.1 888.6 1011.6 911.6 1012.1 907.5 1012.6 937.1 1013.1 928.4 1013.6 937.1 1014.1 937.1 1014.6 937.1 1015.1 897.9 1015.6 897.9 1016.1 878.4 1016.6 890.7 1017.1 874.4 1017.6 861.4 1018.1 865.7 1018.6 858.3 1019.1 858.3 1019.6 859 1020.1 860.6 1020.6 863 1021.1 864.8 1021.7 875.7 1022.2 863.9 1022.7 886.6 1023.2 870.9 1023.7 892.9 1024.2 886.6 1024.7 911.6 1025.2 904 1025.7 911.6 1026.2 916.2 1026.7 911.6 1027.2 916.2 1027.7 897.9 1028.2 904 1028.7 890.7 1029.2 897.9 1029.7 890.7 1030.2 883.1 1030.7 869.8 1031.2 865.7 1031.7 868.7 1032.2 866.7 1032.7 866.7 1033.2 867.7 1033.7 867.7 1034.2 879.9 1034.7 884.8 1035.2 884.8 1035.7 892.9 1036.2 904 1036.7 907.5 1037.2 911.6 1037.7 907.5 1038.3 916.2 1038.8 916.2 1039.3 916.2 1039.8 900.8 1040.3 907.5 1040.8 904 1041.3 890.7 1041.8 890.7 1042.3 884.8 1042.8 873.2 1043.3 870.9 1043.8 874.4 1044.3 870.9 1044.8 872 1045.3 870.9 1045.8 872 1046.3 877 1046.8 879.9 1047.3 884.8 1047.8 895.3 1048.3 895.3 1048.8 904 1049.3 900.8 1049.8 916.2 1050.3 916.2 1050.8 916.2 1051.3 916.2 1051.8 921.7 1052.3 911.6 1052.8 911.6 1053.3 916.2 1053.8 911.6 1054.4 884.8 1054.9 890.7 1055.4 890.7 1055.9 881.5 1056.4 879.9 1056.9 879.9 1057.4 879.9 1057.9 881.5 1058.4 881.5 1058.9 881.5 1059.4 886.6 1059.9 890.7 1060.4 888.6 1060.9 921.7 1061.4 916.2 1061.9 911.6 1062.4 949.3 1062.9 949.3 1063.4 949.3 1063.9 949.3 1064.4 949.3 1064.9 949.3 1065.4 928.4 1065.9 937.1 1066.4 916.2 1066.9 904 1067.4 897.9 1067.9 911.6 1068.4 895.3 1068.9 890.7 1069.4 890.7 1069.9 890.7 1070.5 892.9 1071 890.7 1071.5 900.8 1072 907.5 1072.5 916.2 1073 916.2 1073.5 907.5 1074 928.4 1074.5 949.3 1075 949.3 1075.5 970.2 1078 949.3 1078.5 949.3 1079 949.3 1079.5 928.4 1080 907.5 1080.5 911.6 1081 916.2 1081.5 900.8 1082 907.5 1082.5 904 1083 900.8 1083.5 900.8 1084 907.5 1084.5 904 1085 907.5 1085.5 911.6 1086 949.3 1086.6 937.1 1087.1 928.4 1087.6 970.2 1090.1 970.2 1091.6 937.1 1092.1 949.3 1092.6 949.3 1093.1 911.6 1093.6 911.6 1094.1 911.6 1094.6 911.6 1095.1 911.6 1095.6 907.5 1096.1 907.5 1096.6 907.5 1097.1 911.6 1097.6 911.6 1098.1 937.1 1098.6 949.3 1099.1 937.1 1099.6 970.2 1102.1 970.2 1103.7 949.3 1104.7 949.3 1105.2 949.3 1105.7 937.1 1106.2 921.7 1106.7 911.6 1107.2 911.6 1107.7 911.6 1108.2 911.6 1108.7 911.6 1109.2 911.6 1109.7 921.7 1110.2 928.4 1110.7 916.2 1111.2 937.1 1111.7 949.3 1112.2 949.3 1112.7 970.2 1115.2 970.2 1117.2 949.3 1117.7 921.7 1118.2 921.7 1118.7 911.6 1119.3 916.2 1119.8 911.6 1120.3 911.6 1120.8 911.6 1121.3 911.6 1121.8 911.6 1122.3 911.6 1122.8 916.2 1123.3 921.7 1123.8 928.4 1124.3 949.3 1124.8 937.1 1125.3 970.2 1127.8 970.2 1129.3 937.1 1129.8 928.4 1130.3 928.4 1130.8 921.7 1131.3 921.7 1131.8 921.7 1132.3 907.5 1132.8 907.5 1133.3 907.5 1133.8 911.6 1134.3 907.5 1134.8 911.6 1135.4 907.5 1135.9 911.6 1136.4 916.2 1136.9 937.1 1137.4 928.4 1137.9 937.1 1138.4 949.3 1138.9 970.2 1141.4 949.3 1141.9 937.1 1142.4 921.7 1142.9 928.4 1143.4 916.2 1143.9 921.7 1144.4 907.5 1144.9 907.5 1145.4 907.5 1145.9 907.5 1146.4 907.5 1146.9 907.5 1147.4 907.5 1147.9 911.6 1148.4 928.4 1148.9 921.7 1149.4 928.4 1149.9 937.1 1150.4 970.2 1153 970.2 1154.5 949.3 1155 928.4 1155.5 928.4 1156 916.2 1156.5 916.2 1157 911.6 1157.5 911.6 1158 907.5 1158.5 907.5 1159 907.5 1159.5 907.5 1160 907.5 1160.5 907.5 1161 916.2 1161.5 949.3 1162 937.1 1162.5 949.3 1163 970.2 1163.5 949.3 1165.5 970.2 1167.5 937.1 1168.1 949.3 1168.6 937.1 1169.1 916.2 1169.6 916.2 1170.1 907.5 1170.6 911.6 1171.1 907.5 1171.6 907.5 1172.1 907.5 1172.6 907.5 1173.1 907.5 1173.6 916.2 1174.1 911.6 1174.6 937.1 1175.1 928.4 1175.6 949.3 1176.1 970.2 1178.6 970.2 1179.6 937.1 1180.1 949.3 1180.6 921.7 1181.1 937.1 1181.6 916.2 1182.1 911.6 1182.6 911.6 1183.1 904 1183.6 900.8 1184.2 900.8 1184.7 900.8 1185.2 900.8 1185.7 900.8 1186.2 904 1186.7 907.5 1187.2 937.1 1187.7 916.2 1188.2 970.2 1188.7 949.3 1190.7 970.2 1191.7 949.3 1192.2 949.3 1192.7 949.3 1193.2 916.2 1193.7 921.7 1194.2 904 1194.7 900.8 1195.2 897.9 1195.7 897.9 1196.2 895.3 1196.7 895.3 1197.2 895.3 1197.7 895.3 1198.2 897.9 1198.7 907.5 1199.2 904 1199.7 937.1 1200.3 921.7 1200.8 937.1 1201.3 949.3 1201.8 970.2 1202.3 949.3 1203.8 949.3 1204.3 949.3 1204.8 949.3 1205.3 937.1 1205.8 907.5 1206.3 904 1206.8 921.7 1207.3 907.5 1207.8 895.3 1208.3 890.7 1208.8 890.7 1209.3 890.7 1209.8 890.7 1210.3 890.7 1210.8 895.3 1211.3 904 1211.8 897.9 1212.3 921.7 1212.8 911.6 1213.3 949.3 1213.8 928.4 1214.3 949.3 1214.8 949.3 1215.3 949.3 1215.8 970.2 1216.3 949.3 1216.9 949.3 1217.4 949.3 1217.9 928.4 1218.4 900.8 1218.9 928.4 1219.4 895.3 1219.9 900.8 1220.4 886.6 1220.9 892.9 1221.4 886.6 1221.9 886.6 1222.4 886.6 1222.9 890.7 1223.4 888.6 1223.9 897.9 1224.4 907.5 1224.9 897.9 1225.4 911.6 1225.9 916.2 1226.4 949.3 1226.9 928.4 1227.4 937.1 1227.9 949.3 1228.4 949.3 1228.9 949.3 1229.4 921.7 1229.9 907.5 1230.4 916.2 1230.9 890.7 1231.4 907.5 1231.9 886.6 1232.4 872 1233 873.2 1233.5 869.8 1234 867.7 1234.5 866.7 1235 867.7 1235.5 868.7 1236 867.7 1236.5 864.8 1237 879.9 1237.5 883.1 1238 886.6 1238.5 895.3 1239 892.9 1239.5 904 1240 907.5 1240.5 907.5 1241 907.5 1241.5 907.5 1242 897.9 1242.5 879.9 1243 872 1243.5 881.5 1244 859.8 1244.5 864.8 1245 855.5 1245.5 851.8 1246 850.4 1246.5 849.7 1247 849.3 1247.5 848.4 1248 851.7 1248.5 850 1249.1 849.1 1249.6 850.7 1250.1 862.2 1250.6 866.7 1251.1 872 1251.6 878.4 1252.1 884.8 1252.6 886.6 1253.1 884.8 1253.6 888.6 1254.1 886.6 1254.6 878.4 1255.1 872 1255.6 865.7 1256.1 845.5 1256.6 837.2 1257.1 838.4 1257.6 829.8 1258.1 825.7 1258.6 826.5 1259.1 821 1259.6 819.4 1260.1 818.1 1260.6 815.1 1261.1 813.5 1261.6 817.1 1262.1 824.4 1262.6 811 1263.1 815.6 1263.6 827.1 1264.1 833.7 1264.6 832.4 1265.2 830.3 1265.7 824.5 1266.2 825.7 1266.7 824.3 1267.2 815.5 1267.7 817.8 1268.2 799.3 1268.7 799.2 1269.2 795.2 1269.7 792.3 1270.2 777.7 1270.7 775.3 1271.2 774.2 1271.7 771.3 1272.2 769.4 1272.7 767.7 1273.2 766 1273.7 764.4 1274.2 762.7 1274.7 761.1 1275.2 759.4 1275.7 757.8 1276.2 756.2 1276.7 754.5 1277.2 752.9 1277.7 751.2 1278.2 749.6 1278.7 748.2 1279.2 749.6 1279.7 751.1 1280.2 752.6 1280.7 754 1281.2 755.5 1281.8 757 1282.3 758.4 1282.8 759.9 1283.3 761.4 1283.8 762.8 1284.3 764.3 1284.8 765.8 1285.3 767.6 1285.8 768.8 1286.3 771.2 1286.8 780.6 1287.3 783.9 1287.8 795.1 1288.3 806.1 1288.8 812.3 1289.3 817.9 1289.8 831.5 1290.3 833.3 1290.8 845.9 1291.3 847.6 1291.8 851.2 1292.3 845.7 1292.8 856.1 1293.3 845.3 1293.8 854.2 1294.3 855.5 1294.8 852.9 1295.3 837.3 1295.8 836.2 1296.3 841.9 1296.8 839.5 1297.3 838.1 1297.9 839.2 1298.4 839.5 1298.9 840.3 1299.4 847.6 1299.9 843.1 1300.4 862.2 1300.9 861.4 1301.4 863 1301.9 877 1302.4 881.5 1302.9 879.9 1303.4 892.9 1303.9 900.8 1304.4 900.8 1304.9 900.8 1305.4 900.8 1305.9 886.6 1306.4 886.6 1306.9 892.9 1307.4 877 1307.9 873.2 1308.4 863 1308.9 856.8 1309.4 857.5 1309.9 859 1310.4 858.3 1310.9 859 1311.4 860.6 1311.9 861.4 1312.4 870.9 1312.9 872 1313.4 892.9 1314 884.8 1314.5 897.9 1315 895.3 1315.5 911.6 1316 921.7 1316.5 921.7 1317 921.7 1317.5 921.7 1318 921.7 1318.5 904 1319 916.2 1319.5 907.5 1320 879.9 1320.5 879.9 1321 892.9 1321.5 874.4 1322 875.7 1322.5 873.2 1323 873.2 1323.5 874.4 1324 877 1324.5 875.7 1325 884.8 1325.5 892.9 1326 888.6 1326.5 907.5 1327 892.9 1327.5 900.8 1328 916.2 1328.5 928.4 1329 928.4 1329.5 928.4 1330.1 928.4 1330.6 928.4 1331.1 916.2 1331.6 911.6 1332.1 904 1332.6 907.5 1333.1 886.6 1333.6 888.6 1334.1 892.9 1334.6 881.5 1335.1 884.8 1335.6 881.5 1336.1 881.5 1336.6 883.1 1337.1 888.6 1337.6 886.6 1338.1 884.8 1338.6 886.6 1339.1 904 1339.6 904 1340.1 937.1 1340.6 928.4 1341.1 937.1 1341.6 949.3 1342.1 949.3 1342.6 949.3 1343.1 949.3 1343.6 949.3 1344.1 937.1 1344.6 921.7 1345.1 916.2 1345.6 911.6 1346.1 895.3 1346.7 900.8 1347.2 895.3 1347.7 895.3 1348.2 895.3 1348.7 892.9 1349.2 895.3 1349.7 897.9 1350.2 895.3 1350.7 897.9 1351.2 907.5 1351.7 907.5 1352.2 911.6 1352.7 928.4 1353.2 921.7 1353.7 928.4 1354.2 937.1 1354.7 937.1 1355.2 937.1 1355.7 937.1 1356.2 937.1 1356.7 937.1 1357.2 921.7 1357.7 928.4 1358.2 916.2 1358.7 916.2 1359.2 897.9 1359.7 897.9 1360.2 897.9 1360.7 897.9 1361.2 897.9 1361.7 897.9 1362.2 897.9 1362.8 904 1363.3 907.5 1363.8 904 1364.3 900.8 1364.8 907.5 1365.3 921.7 1365.8 928.4 1366.3 928.4 1366.8 949.3 1367.3 949.3 1367.8 949.3 1368.3 949.3 1368.8 949.3 1369.3 937.1 1369.8 949.3 1370.3 937.1 1370.8 916.2 1371.3 911.6 1371.8 900.8 1372.3 897.9 1372.8 897.9 1373.3 897.9 1373.8 895.3 1374.3 895.3 1374.8 895.3 1375.3 895.3 1375.8 904 1376.3 904 1376.8 900.8 1377.3 916.2 1377.8 921.7 1378.3 928.4 1378.9 937.1 1379.4 949.3 1379.9 949.3 1380.4 949.3 1380.9 970.2 1381.9 949.3 1382.4 949.3 1382.9 949.3 1383.4 916.2 1383.9 928.4 1384.4 921.7 1384.9 916.2 1385.4 900.8 1385.9 907.5 1386.4 900.8 1386.9 900.8 1387.4 900.8 1387.9 900.8 1388.4 904 1388.9 904 1389.4 904 1389.9 911.6 1390.4 928.4 1390.9 928.4 1391.4 949.3 1391.9 949.3 1392.4 949.3 1392.9 949.3 1393.4 949.3 1393.9 949.3 1394.4 949.3 1395 949.3 1395.5 928.4 1396 949.3 1396.5 921.7 1397 916.2 1397.5 916.2 1398 907.5 1398.5 916.2 1399 907.5 1399.5 907.5 1400 907.5 1400.5 907.5 1401 911.6 1401.5 911.6 1402 911.6 1402.5 911.6 1403 921.7 1403.5 949.3 1404 937.1 1404.5 949.3 1405 949.3 1405.5 970.2 1408 949.3 1408.5 949.3 1409 928.4 1409.5 937.1 1410 921.7 1410.5 916.2 1411 916.2 1411.6 911.6 1412.1 911.6 1412.6 911.6 1413.1 911.6 1413.6 911.6 1414.1 911.6 1414.6 921.7 1415.1 928.4 1415.6 928.4 1416.1 970.2 1417.6 949.3 1418.6 970.2 1420.1 949.3 1421.1 937.1 1421.6 949.3 1422.1 937.1 1422.6 921.7 1423.1 937.1 1423.6 916.2 1424.1 921.7 1424.6 916.2 1425.1 916.2 1425.6 916.2 1426.1 921.7 1426.6 916.2 1427.1 921.7 1427.7 928.4 1428.2 937.1 1428.7 928.4 1429.2 949.3 1429.7 949.3 1430.2 949.3 1430.7 949.3 1431.2 970.2 1433.2 949.3 1433.7 949.3 1434.2 949.3 1434.7 949.3 1435.2 921.7 1435.7 928.4 1436.2 921.7 1436.7 921.7 1437.2 921.7 1437.7 916.2 1438.2 916.2 1438.7 916.2 1439.2 928.4 1439.7 928.4 1440.2 937.1 1440.7 928.4 1441.2 928.4 1441.7 970.2 1444.3 970.2 1446.3 949.3 1446.8 949.3 1447.3 937.1 1447.8 949.3 1448.3 921.7 1448.8 921.7 1449.3 921.7 1449.8 921.7 1450.3 916.2 1450.8 921.7 1451.3 916.2 1451.8 921.7 1452.3 921.7 1452.8 921.7 1453.3 937.1 1453.8 949.3 1454.3 949.3 1454.8 937.1 1455.3 949.3 1455.8 949.3 1456.3 970.2 1458.8 970.2 1459.9 937.1 1460.4 928.4 1460.9 928.4 1461.4 928.4 1461.9 921.7 1462.4 916.2 1462.9 916.2 1463.4 916.2 1463.9 916.2 1464.4 916.2 1464.9 928.4 1465.4 937.1 1465.9 928.4 1466.4 928.4 1466.9 928.4 1467.4 970.2 1468.4 949.3 1469.9 970.2 1471.9 949.3 1472.4 937.1 1472.9 928.4 1473.4 928.4 1473.9 928.4 1474.4 921.7 1474.9 916.2 1475.4 916.2 1475.9 916.2 1476.5 916.2 1477 916.2 1477.5 916.2 1478 921.7 1478.5 937.1 1479 921.7 1479.5 921.7 1480 937.1 1480.5 970.2 1481 949.3 1483 970.2 1484.5 949.3 1485 949.3 1485.5 949.3 1486 928.4 1486.5 928.4 1487 916.2 1487.5 916.2 1488 911.6 1488.5 911.6 1489 916.2 1489.5 911.6 1490 916.2 1490.5 911.6 1491 921.7 1491.5 921.7 1492 928.4 1492.6 949.3 1493.1 970.2 1493.6 937.1 1494.1 949.3 1495.6 970.2 1498.1 949.3 1498.6 928.4 1499.1 928.4 1499.6 928.4 1500.1 916.2 1500.6 916.2 1501.1 916.2 1501.6 916.2 1502.1 916.2 1502.6 916.2 1503.1 921.7 1503.6 921.7 1504.1 937.1 1504.6 937.1 1505.1 928.4 1505.6 937.1 1506.1 949.3 1506.6 970.2 1509.2 970.2 1509.7 949.3 1510.2 949.3 1510.7 949.3 1511.2 928.4 1511.7 928.4 1512.2 921.7 1512.7 921.7 1513.2 921.7 1513.7 921.7 1514.2 921.7 1514.7 921.7 1515.2 921.7 1515.7 921.7 1516.2 921.7 1516.7 921.7 1517.2 937.1 1517.7 970.2 1518.2 949.3 1520.2 970.2 1522.7 970.2 1523.7 949.3 1524.2 949.3 1524.8 928.4 1525.3 937.1 1525.8 921.7 1526.3 921.7 1526.8 921.7 1527.3 921.7 1527.8 921.7 1528.3 921.7 1528.8 928.4 1529.3 928.4 1529.8 937.1 1530.3 937.1 1530.8 949.3 1531.3 970.2 1531.8 949.3 1533.8 970.2 1534.8 949.3 1535.8 937.1 1536.3 949.3 1536.8 937.1 1537.3 928.4 1537.8 921.7 1538.3 921.7 1538.8 916.2 1539.3 916.2 1539.8 916.2 1540.3 916.2 1540.8 916.2 1541.4 921.7 1541.9 921.7 1542.4 921.7 1542.9 937.1 1543.4 949.3 1543.9 937.1 1544.4 949.3 1544.9 970.2 1547.4 970.2 1548.4 949.3 1548.9 949.3 1549.4 928.4 1549.9 921.7 1550.4 921.7 1550.9 916.2 1551.4 916.2 1551.9 916.2 1552.4 916.2 1552.9 916.2 1553.4 916.2 1553.9 916.2 1554.4 921.7 1554.9 921.7 1555.4 928.4 1555.9 928.4 1556.4 949.3 1556.9 937.1 1557.5 970.2 1560 970.2 1561.5 937.1 1562 937.1 1562.5 928.4 1563 937.1 1563.5 928.4 1564 921.7 1564.5 916.2 1565 916.2 1565.5 916.2 1566 916.2 1566.5 916.2 1567 916.2 1567.5 916.2 1568 928.4 1568.5 937.1 1569 928.4 1569.5 949.3 1570 937.1 1570.5 970.2 1571 949.3 1573 970.2 1574.1 949.3 1574.6 937.1 1575.1 928.4 1575.6 916.2 1576.1 928.4 1576.6 916.2 1577.1 911.6 1577.6 916.2 1578.1 911.6 1578.6 911.6 1579.1 911.6 1579.6 911.6 1580.1 921.7 1580.6 937.1 1581.1 949.3 1581.6 928.4 1582.1 937.1 1582.6 949.3 1583.1 949.3 1583.6 970.2 1586.1 949.3 1586.6 949.3 1587.1 949.3 1587.6 949.3 1588.1 921.7 1588.6 916.2 1589.1 916.2 1589.7 911.6 1590.2 911.6 1590.7 911.6 1591.2 911.6 1591.7 911.6 1592.2 911.6 1592.7 921.7 1593.2 916.2 1593.7 928.4 1594.2 937.1 1594.7 928.4 1595.2 949.3 1595.7 970.2 1598.2 970.2 1599.7 949.3 1600.2 937.1 1600.7 937.1 1601.2 921.7 1601.7 928.4 1602.2 907.5 1602.7 907.5 1603.2 907.5 1603.7 907.5 1604.2 907.5 1604.7 907.5 1605.2 911.6 1605.7 921.7 1606.3 916.2 1606.8 937.1 1607.3 928.4 1607.8 928.4 1608.3 937.1 1608.8 937.1 1609.3 937.1 1609.8 949.3 1610.3 949.3 1610.8 949.3 1611.3 949.3 1611.8 928.4 1612.3 937.1 1612.8 937.1 1613.3 916.2 1613.8 916.2 1614.3 904 1614.8 900.8 1615.3 897.9 1615.8 897.9 1616.3 895.3 1616.8 895.3 1617.3 895.3 1617.8 897.9 1618.3 895.3 1618.8 895.3 1619.3 892.9 1619.8 904 1620.3 921.7 1620.8 921.7 1621.3 928.4 1621.8 921.7 1622.4 928.4 1622.9 928.4 1623.4 928.4 1623.9 921.7 1624.4 921.7 1624.9 907.5 1625.4 904 1625.9 883.1 1626.4 883.1 1626.9 879.9 1627.4 875.7 1627.9 870.9 1628.4 870.9 1628.9 868.7 1629.4 867.7 1629.9 867.7 1630.4 866.7 1630.9 867.7 1631.4 873.2 1631.9 886.6 1632.4 878.4 1632.9 874.4 1633.4 897.9 1633.9 888.6 1634.4 892.9 1634.9 900.8 1635.4 904 1635.9 900.8 1636.4 888.6 1636.9 886.6 1637.4 890.7 1637.9 886.6 1638.5 859.8 1639 860.6 1639.5 851.5 1640 842.9 1640.5 841.4 1641 842.7 1641.5 837.2 1642 835.5 1642.5 834.8 1643 832.8 1643.5 840.8 1644 838 1644.5 832 1645 838.1 1645.5 838 1646 843.2 1646.5 854.2 1647 852.3 1647.5 845.2 1648 851.6 1648.5 847.9 1649 843.3 1649.5 833.7 1650 819.7 1650.5 825.9 1651 817.6 1651.5 801.6 1652 802.5 1652.5 792.2 1653 786.2 1653.5 782.1 1654 780.5 1654.6 778.8 1655.1 777.2 1655.6 775.6 1656.1 774.2 1656.6 773.6 1657.1 773 1657.6 772.4 1658.1 771.8 1658.6 771.2 1659.1 770.6 1659.6 770 1660.1 769.4 1660.6 768.8 1661.1 768.5 1661.6 769.1 1662.1 769.6 1662.6 770.2 1663.1 770.8 1663.6 771.4 1664.1 772 1664.6 772.6 1665.1 773.2 1665.6 773.8 1666.1 778 1666.6 793.3 1667.1 808.6 1667.6 823.8 1668.1 827.8 1668.6 831 1669.1 837.1 1669.6 857.5 1670.1 865.7 1670.6 875.7 1671.2 877 1671.7 883.1 1672.2 911.6 1672.7 921.7 1673.2 921.7 1673.7 928.4 1674.2 928.4 1674.7 928.4 1675.2 921.7 1675.7 937.1 1676.2 928.4 1676.7 916.2 1677.2 897.9 1677.7 900.8 1678.2 883.1 1678.7 881.5 1679.2 884.8 1679.7 881.5 1680.2 883.1 1680.7 884.8 1681.2 886.6 1681.7 890.7 1682.2 897.9 1682.7 937.1 1683.2 921.7 1683.7 937.1 1684.2 970.2 1688.8 970.2 1689.3 949.3 1690.3 949.3 1690.8 949.3 1691.3 928.4 1691.8 937.1 1692.3 937.1 1692.8 937.1 1693.3 937.1 1693.8 937.1 1694.3 949.3 1694.8 970.2 1695.8 949.3 1701.3 970.2 1703.9 949.3 1704.4 949.3 1704.9 949.3 1705.4 949.3 1705.9 949.3 1706.4 949.3 1706.9 949.3 1707.4 949.3 1707.9 970.2 1714.4 970.2 1716.4 949.3 1716.9 949.3 1717.4 949.3 1717.9 949.3 1718.4 949.3 1718.9 949.3 1719.4 949.3 1720 970.2 1726.5 970.2 1729 970.2 1729.5 949.3 1730 949.3 1730.5 949.3 1731 949.3 1731.5 949.3 1732 949.3 1732.5 970.2 1733 949.3 1740.6 970.2 1742.1 949.3 1742.6 949.3 1743.1 949.3 1743.6 949.3 1744.1 949.3 1744.6 970.2 1752.2 970.2 1754.2 949.3 1754.7 949.3 1755.2 949.3 1755.7 949.3 1756.2 949.3 1756.7 949.3 1757.2 949.3 1757.7 970.2 1766.7 970.2 1768.3 949.3 1768.8 949.3 1769.3 970.2 1778.3 970.2 1780.8 970.2 1783.3 970.2 1791.9 970.2 1794.4 970.2 1796.9 970.2 1803.5 970.2 1806 970.2 1808.5 970.2 1816 970.2 1818.6 970.2 1821.1 970.2 1829.1 970.2 1831.6 970.2 1834.7 970.2 1841.2 970.2 1843.7 970.2 1846.2 970.2 1853.8 970.2 1856.3 970.2 1858.8 970.2 1867.4 970.2 1869.9 970.2 1879.4 970.2 1882 970.2 1893.5 970.2 1896.5 970.2 1908.1 970.2 1970 970.2 1980.6 970.2 1983.1 970.2 1993.6 970.2 1996.2 970.2 1998.7 970.2 2005.7 970.2 2008.2 970.2 2008.7 949.3 2009.2 949.3 2009.7 949.3 2010.2 949.3 2010.7 970.2 2017.3 970.2 2018.8 949.3 2019.8 937.1 2020.3 937.1 2020.8 937.1 2021.3 937.1 2021.8 937.1 2022.3 937.1 2022.8 937.1 2023.3 937.1 2023.8 937.1 2024.3 970.2 2028.9 970.2 2030.9 937.1 2031.4 928.4 2031.9 907.5 2032.4 904 2032.9 892.9 2033.4 886.6 2033.9 881.5 2034.4 875.7 2034.9 870.9 2035.4 865.7 2035.9 861.4 2036.4 858.3 2036.9 856.8 2037.4 854.8 2037.9 852.9 2038.4 850.7 2038.9 848.7 2039.4 846.8 2039.9 844.8 2040.4 843.1 2040.9 844.4 2041.4 845.7 2041.9 847 2042.4 848.3 2042.9 849.6 2043.4 850.9 2043.9 852.3 2044.5 853.5 2045 854.8 2045.5 860.6 2046 866.7 2046.5 872 2047 878.4 2047.5 884.8 2048 890.7 2048.5 900.8 2049 907.5 2049.5 916.2 2050 921.7 2050.5 949.3 2051 970.2 2055 970.2 2057.5 949.3 2058 949.3 2058.5 949.3 2059 949.3 2059.5 949.3 2060 949.3 2060.6 970.2 2061.6 949.3 2063.6 970.2 2068.1 970.2 2070.6 970.2 2073.1 970.2 2083.2 970.2 2085.7 970.2 2096.8 970.2 2110.4 970.2" fill="none" stroke="none" marker-start="url(#m)" marker-mid="url(#m)" marker-end="url(#m)"/>
</g>
<g fill="none" stroke="#262626"><path d="M126.3 45.7H2205.5" stroke-width="1.35"/><path d="M126.3 45.7V1108.5" stroke-width="1.2"/><path d="M2205.5 45.7V1108.5" stroke-width="2"/><path d="M126.3 1108.5H2205.5" stroke-width="2"/>
<path d="M461.7 1108.5v-20M461.7 45.7v20M797.1 1108.5v-20M797.1 45.7v20M1132.5 1108.5v-20M1132.5 45.7v20M1467.9 1108.5v-20M1467.9 45.7v20M1803.3 1108.5v-20M1803.3 45.7v20M2138.7 1108.5v-20M2138.7 45.7v20" stroke-width="1.3"/></g>
<g font-family="'Liberation Sans', Arial, Helvetica, sans-serif" fill="#262626" font-size="67" text-anchor="middle">
<text x="126.3" y="1194">0</text>
<text x="461.7" y="1194">1</text>
<text x="797.1" y="1194">2</text>
<text x="1132.5" y="1194">3</text>
<text x="1467.9" y="1194">4</text>
<text x="1803.3" y="1194">5</text>
<text x="2138.7" y="1194">6</text>
</g>
<text x="1165.9" y="1287" font-family="'Liberation Sans', Arial, Helvetica, sans-serif" font-size="74.7" fill="#262626" text-anchor="middle">Omega (°)</text>
<text transform="translate(92.3 575) rotate(-90)" font-family="'Liberation Sans', Arial, Helvetica, sans-serif" font-size="74.7" fill="#262626" text-anchor="middle">Intensity (a.u.)</text>
<g font-family="'Liberation Sans', Arial, Helvetica, sans-serif" font-size="67" fill="#000">
<text x="1536" y="201.5">WC/SiC as-deposited</text>
<text x="1468" y="750.5">annealed 24h at 700°C</text>
</g>
<rect x="144.5" y="916" width="503" height="174" fill="#fff" stroke="#262626" stroke-width="1.5"/>
<path d="M152 960.5H193" stroke="#000" stroke-width="5"/>
<circle cx="171.6" cy="1045.4" r="5.3" fill="none" stroke="#f00" stroke-width="1.3"/>
<g font-family="'Liberation Sans', Arial, Helvetica, sans-serif" font-size="67" fill="#000"><text x="194.5" y="987">measurements</text><text x="195.5" y="1072.5">fit</text></g>
</svg></body></html>
